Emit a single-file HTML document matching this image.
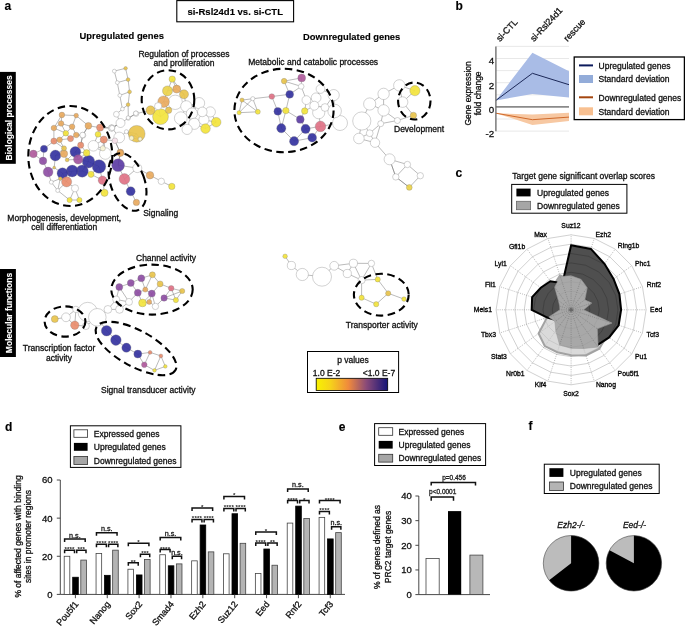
<!DOCTYPE html><html><head><meta charset="utf-8"><style>
html,body{margin:0;padding:0;background:#fff;}
svg{display:block;font-family:"Liberation Sans", sans-serif;will-change:transform;}
text{stroke-width:0.3px;}
text[fill="#111"]{stroke:#111;} text[fill="#000"]{stroke:#000;} text[fill="#222"]{stroke:#222;} text[fill="#fff"]{stroke:#fff;} text[font-weight="bold"]{stroke-width:0.12px;} text[fill="#333"]{stroke-width:0;}
</style></head><body>
<svg width="685" height="626" viewBox="0 0 685 626">
<rect width="685" height="626" fill="#fff"/>
<text x="4.50" y="10.30" font-size="12" font-weight="bold" font-style="normal" text-anchor="start" fill="#000" >a</text>
<rect x="176.8" y="0.6" width="116.8" height="21.2" fill="#fff" stroke="#000" stroke-width="1.1"/>
<text x="235.20" y="14.80" font-size="9.5" font-weight="bold" font-style="normal" text-anchor="middle" fill="#000" >si-Rsl24d1 vs. si-CTL</text>
<text x="79.60" y="39.40" font-size="9.4" font-weight="bold" font-style="normal" text-anchor="start" fill="#000" >Upregulated genes</text>
<text x="302.90" y="39.50" font-size="9.4" font-weight="bold" font-style="normal" text-anchor="start" fill="#000" >Downregulated genes</text>
<g stroke="#666" stroke-width="0.45" fill="none">
<line x1="61.9" y1="114.9" x2="76.2" y2="115.6"/>
<line x1="61.9" y1="114.9" x2="61.1" y2="123.5"/>
<line x1="61.9" y1="114.9" x2="53.9" y2="128"/>
<line x1="76.2" y1="115.6" x2="72.1" y2="126.7"/>
<line x1="76.2" y1="115.6" x2="88.4" y2="125.8"/>
<line x1="61.1" y1="123.5" x2="53.9" y2="128"/>
<line x1="61.1" y1="123.5" x2="72.1" y2="126.7"/>
<line x1="61.1" y1="123.5" x2="65.8" y2="133.2"/>
<line x1="53.9" y1="128" x2="65.8" y2="133.2"/>
<line x1="53.9" y1="128" x2="53.9" y2="141.1"/>
<line x1="72.1" y1="126.7" x2="65.8" y2="133.2"/>
<line x1="72.1" y1="126.7" x2="76.2" y2="135"/>
<line x1="88.4" y1="125.8" x2="100.1" y2="127.6"/>
<line x1="88.4" y1="125.8" x2="82.6" y2="135"/>
<line x1="88.4" y1="125.8" x2="82.9" y2="135.3"/>
<line x1="100.1" y1="127.6" x2="98" y2="134.3"/>
<line x1="100.1" y1="127.6" x2="111.7" y2="127.9"/>
<line x1="100.1" y1="127.6" x2="111.6" y2="128.1"/>
<line x1="65.8" y1="133.2" x2="59.6" y2="139.8"/>
<line x1="65.8" y1="133.2" x2="70.5" y2="138.6"/>
<line x1="76.2" y1="135" x2="82.6" y2="135"/>
<line x1="76.2" y1="135" x2="70.5" y2="138.6"/>
<line x1="76.2" y1="135" x2="82.9" y2="135.3"/>
<line x1="82.6" y1="135" x2="80.7" y2="145.2"/>
<line x1="82.6" y1="135" x2="82.9" y2="135.3"/>
<line x1="53.9" y1="141.1" x2="59.6" y2="139.8"/>
<line x1="53.9" y1="141.1" x2="44" y2="148.8"/>
<line x1="53.9" y1="141.1" x2="64" y2="148.3"/>
<line x1="59.6" y1="139.8" x2="70.5" y2="138.6"/>
<line x1="59.6" y1="139.8" x2="64" y2="148.3"/>
<line x1="98" y1="134.3" x2="93.4" y2="145.8"/>
<line x1="98" y1="134.3" x2="103.8" y2="139.6"/>
<line x1="80.7" y1="145.2" x2="75.4" y2="151.8"/>
<line x1="80.7" y1="145.2" x2="86.6" y2="152.9"/>
<line x1="80.7" y1="145.2" x2="82.9" y2="135.3"/>
<line x1="93.4" y1="145.8" x2="86.6" y2="152.9"/>
<line x1="93.4" y1="145.8" x2="103.8" y2="139.6"/>
<line x1="93.4" y1="145.8" x2="102.8" y2="148.3"/>
<line x1="93.4" y1="145.8" x2="105.3" y2="153.5"/>
<line x1="44" y1="148.8" x2="33.4" y2="153.9"/>
<line x1="44" y1="148.8" x2="43" y2="160.9"/>
<line x1="33.4" y1="153.9" x2="43" y2="160.9"/>
<line x1="55.4" y1="155.5" x2="64" y2="148.3"/>
<line x1="55.4" y1="155.5" x2="64" y2="153.8"/>
<line x1="55.4" y1="155.5" x2="54.2" y2="167.6"/>
<line x1="64" y1="148.3" x2="64" y2="153.8"/>
<line x1="64" y1="153.8" x2="67.1" y2="159.9"/>
<line x1="75.4" y1="151.8" x2="86.6" y2="152.9"/>
<line x1="75.4" y1="151.8" x2="67.1" y2="159.9"/>
<line x1="75.4" y1="151.8" x2="78.2" y2="159.4"/>
<line x1="86.6" y1="152.9" x2="78.2" y2="159.4"/>
<line x1="86.6" y1="152.9" x2="88.5" y2="161.6"/>
<line x1="43" y1="160.9" x2="48.1" y2="172"/>
<line x1="67.1" y1="159.9" x2="78.2" y2="159.4"/>
<line x1="78.2" y1="159.4" x2="88.5" y2="161.6"/>
<line x1="88.5" y1="161.6" x2="82.2" y2="171.1"/>
<line x1="88.5" y1="161.6" x2="99" y2="166.5"/>
<line x1="54.2" y1="167.6" x2="48.1" y2="172"/>
<line x1="54.2" y1="167.6" x2="62.5" y2="173.3"/>
<line x1="48.1" y1="172" x2="51.3" y2="182.2"/>
<line x1="62.5" y1="173.3" x2="72.2" y2="171"/>
<line x1="62.5" y1="173.3" x2="66.6" y2="181.8"/>
<line x1="62.5" y1="173.3" x2="60.3" y2="178.6"/>
<line x1="72.2" y1="171" x2="82.2" y2="171.1"/>
<line x1="72.2" y1="171" x2="66.6" y2="181.8"/>
<line x1="82.2" y1="171.1" x2="91" y2="174.3"/>
<line x1="99" y1="166.5" x2="91" y2="174.3"/>
<line x1="99" y1="166.5" x2="102.5" y2="180.2"/>
<line x1="91" y1="174.3" x2="102.5" y2="180.2"/>
<line x1="66.6" y1="181.8" x2="60.3" y2="178.6"/>
<line x1="66.6" y1="181.8" x2="57.7" y2="190.5"/>
<line x1="66.6" y1="181.8" x2="75" y2="188.3"/>
<line x1="60.3" y1="178.6" x2="51.3" y2="182.2"/>
<line x1="60.3" y1="178.6" x2="57.7" y2="190.5"/>
<line x1="51.3" y1="182.2" x2="57.7" y2="190.5"/>
<line x1="57.7" y1="190.5" x2="69.6" y2="200"/>
<line x1="75" y1="188.3" x2="69.6" y2="200"/>
<line x1="75" y1="188.3" x2="79.4" y2="200"/>
<line x1="69.6" y1="200" x2="79.4" y2="200"/>
<line x1="102.5" y1="180.2" x2="104.5" y2="192.8"/>
<line x1="136.7" y1="133.8" x2="131.5" y2="138.1"/>
<line x1="136.7" y1="133.8" x2="140.1" y2="139.1"/>
<line x1="136.7" y1="133.8" x2="126.4" y2="131.7"/>
<line x1="131.5" y1="138.1" x2="140.1" y2="139.1"/>
<line x1="131.5" y1="138.1" x2="126.4" y2="131.7"/>
<line x1="140.1" y1="139.1" x2="126.4" y2="131.7"/>
<line x1="103.8" y1="139.6" x2="102.8" y2="148.3"/>
<line x1="103.8" y1="139.6" x2="105.3" y2="153.5"/>
<line x1="103.8" y1="139.6" x2="114.9" y2="140.7"/>
<line x1="120.4" y1="153.2" x2="118.1" y2="165.2"/>
<line x1="120.4" y1="153.2" x2="114.9" y2="140.7"/>
<line x1="120.4" y1="153.2" x2="120.3" y2="152.5"/>
<line x1="118.1" y1="165.2" x2="124.5" y2="179"/>
<line x1="118.1" y1="165.2" x2="137.3" y2="168.1"/>
<line x1="118.1" y1="165.2" x2="120.3" y2="152.5"/>
<line x1="124.5" y1="179" x2="137.3" y2="168.1"/>
<line x1="124.5" y1="179" x2="130.7" y2="191.3"/>
<line x1="137.3" y1="168.1" x2="150" y2="175.2"/>
<line x1="150" y1="175.2" x2="161.3" y2="181.3"/>
<line x1="161.3" y1="181.3" x2="171.8" y2="186.4"/>
<line x1="130.7" y1="191.3" x2="136.4" y2="202.4"/>
<line x1="116.4" y1="114.2" x2="120.5" y2="123"/>
<line x1="120.5" y1="123" x2="111.7" y2="127.9"/>
<line x1="120.5" y1="123" x2="128.3" y2="118.3"/>
<line x1="120.5" y1="123" x2="111.6" y2="128.1"/>
<line x1="120.5" y1="123" x2="112.1" y2="128"/>
<line x1="111.7" y1="127.9" x2="111.6" y2="128.1"/>
<line x1="111.7" y1="127.9" x2="112.1" y2="128"/>
<line x1="119.2" y1="137.5" x2="126.4" y2="131.7"/>
<line x1="119.2" y1="137.5" x2="114.9" y2="140.7"/>
<line x1="119.2" y1="137.5" x2="112.1" y2="128"/>
<line x1="128.3" y1="118.3" x2="136.1" y2="113.7"/>
<line x1="128.3" y1="118.3" x2="135.8" y2="113.3"/>
<line x1="136.1" y1="113.7" x2="135.8" y2="113.3"/>
<line x1="136.1" y1="113.7" x2="150.5" y2="110.3"/>
<line x1="102.8" y1="148.3" x2="105.3" y2="153.5"/>
<line x1="114.9" y1="140.7" x2="120.3" y2="152.5"/>
<line x1="111.6" y1="128.1" x2="112.1" y2="128"/>
<line x1="114.3" y1="71.1" x2="125.6" y2="68.3"/>
<line x1="114.3" y1="71.1" x2="117.3" y2="82.6"/>
<line x1="125.6" y1="68.3" x2="128.1" y2="79.6"/>
<line x1="117.3" y1="82.6" x2="128.1" y2="79.6"/>
<line x1="117.3" y1="82.6" x2="119.8" y2="95.4"/>
<line x1="128.1" y1="79.6" x2="129.6" y2="91.8"/>
<line x1="119.8" y1="95.4" x2="129.6" y2="91.8"/>
<line x1="119.8" y1="95.4" x2="122.4" y2="109"/>
<line x1="129.6" y1="91.8" x2="128.1" y2="104.6"/>
<line x1="122.4" y1="109" x2="116.4" y2="114.2"/>
<line x1="122.4" y1="109" x2="128.1" y2="104.6"/>
<line x1="128.1" y1="104.6" x2="128.3" y2="118.3"/>
<line x1="172.2" y1="79.1" x2="167.5" y2="90.9"/>
<line x1="172.2" y1="79.1" x2="176.7" y2="89.1"/>
<line x1="172.2" y1="79.1" x2="184" y2="94.3"/>
<line x1="167.5" y1="90.9" x2="176.7" y2="89.1"/>
<line x1="167.5" y1="90.9" x2="163.6" y2="101.7"/>
<line x1="176.7" y1="89.1" x2="184" y2="94.3"/>
<line x1="184" y1="94.3" x2="175.2" y2="102.3"/>
<line x1="184" y1="94.3" x2="186.3" y2="106.3"/>
<line x1="163.6" y1="101.7" x2="175.2" y2="102.3"/>
<line x1="163.6" y1="101.7" x2="158.1" y2="106.2"/>
<line x1="163.6" y1="101.7" x2="168.6" y2="110.3"/>
<line x1="175.2" y1="102.3" x2="168.6" y2="110.3"/>
<line x1="175.2" y1="102.3" x2="186.3" y2="106.3"/>
<line x1="158.1" y1="106.2" x2="150.5" y2="110.3"/>
<line x1="158.1" y1="106.2" x2="160.5" y2="116.7"/>
<line x1="150.5" y1="110.3" x2="160.5" y2="116.7"/>
<line x1="168.6" y1="110.3" x2="160.5" y2="116.7"/>
<line x1="186.3" y1="106.3" x2="199.1" y2="103.1"/>
<line x1="186.3" y1="106.3" x2="180.8" y2="118.2"/>
<line x1="186.3" y1="106.3" x2="191.9" y2="113.5"/>
<line x1="199.1" y1="103.1" x2="191.9" y2="113.5"/>
<line x1="199.1" y1="103.1" x2="202.3" y2="111.9"/>
<line x1="180.8" y1="118.2" x2="191.9" y2="113.5"/>
<line x1="180.8" y1="118.2" x2="187.1" y2="129.4"/>
<line x1="191.9" y1="113.5" x2="202.3" y2="111.9"/>
<line x1="191.9" y1="113.5" x2="194.3" y2="123.8"/>
<line x1="191.9" y1="113.5" x2="187.1" y2="129.4"/>
<line x1="202.3" y1="111.9" x2="210.3" y2="111.9"/>
<line x1="202.3" y1="111.9" x2="203.9" y2="119.8"/>
<line x1="210.3" y1="111.9" x2="203.9" y2="119.8"/>
<line x1="210.3" y1="111.9" x2="216.2" y2="122.2"/>
<line x1="203.9" y1="119.8" x2="194.3" y2="123.8"/>
<line x1="203.9" y1="119.8" x2="216.2" y2="122.2"/>
<line x1="203.9" y1="119.8" x2="205.5" y2="128.6"/>
<line x1="194.3" y1="123.8" x2="187.1" y2="129.4"/>
<line x1="194.3" y1="123.8" x2="205.5" y2="128.6"/>
<line x1="216.2" y1="122.2" x2="205.5" y2="128.6"/>
</g>
<circle cx="175.2" cy="102.3" r="7.2" fill="#fff" stroke="#9a9a9a" stroke-width="0.45"/>
<circle cx="180.8" cy="118.2" r="6.4" fill="#fff" stroke="#9a9a9a" stroke-width="0.45"/>
<circle cx="105.3" cy="153.5" r="5.8" fill="#fff" stroke="#9a9a9a" stroke-width="0.45"/>
<circle cx="186.3" cy="106.3" r="5.6" fill="#fff" stroke="#9a9a9a" stroke-width="0.45"/>
<circle cx="199.1" cy="103.1" r="5.6" fill="#fff" stroke="#9a9a9a" stroke-width="0.45"/>
<circle cx="191.9" cy="113.5" r="5.6" fill="#fff" stroke="#9a9a9a" stroke-width="0.45"/>
<circle cx="194.3" cy="123.8" r="5.6" fill="#fff" stroke="#9a9a9a" stroke-width="0.45"/>
<circle cx="119.2" cy="137.5" r="5.4" fill="#fff" stroke="#9a9a9a" stroke-width="0.45"/>
<circle cx="93.4" cy="145.8" r="5.3" fill="#fff" stroke="#9a9a9a" stroke-width="0.45"/>
<circle cx="210.3" cy="111.9" r="5.1" fill="#fff" stroke="#9a9a9a" stroke-width="0.45"/>
<circle cx="203.9" cy="119.8" r="5.1" fill="#fff" stroke="#9a9a9a" stroke-width="0.45"/>
<circle cx="187.1" cy="129.4" r="5.1" fill="#fff" stroke="#9a9a9a" stroke-width="0.45"/>
<circle cx="202.3" cy="111.9" r="4.8" fill="#fff" stroke="#9a9a9a" stroke-width="0.45"/>
<circle cx="137.3" cy="168.1" r="4.5" fill="#fff" stroke="#9a9a9a" stroke-width="0.45"/>
<circle cx="120.5" cy="123" r="4.5" fill="#fff" stroke="#9a9a9a" stroke-width="0.45"/>
<circle cx="75" cy="188.3" r="3.6" fill="#fff" stroke="#9a9a9a" stroke-width="0.45"/>
<circle cx="161.3" cy="181.3" r="3.2" fill="#fff" stroke="#9a9a9a" stroke-width="0.45"/>
<circle cx="111.7" cy="127.9" r="3.2" fill="#fff" stroke="#9a9a9a" stroke-width="0.45"/>
<circle cx="111.6" cy="128.1" r="3.1" fill="#fff" stroke="#9a9a9a" stroke-width="0.45"/>
<circle cx="116.4" cy="114.2" r="2.9" fill="#fff" stroke="#9a9a9a" stroke-width="0.45"/>
<circle cx="82.9" cy="135.3" r="2.9" fill="#fff" stroke="#9a9a9a" stroke-width="0.45"/>
<circle cx="82.6" cy="135" r="2.8" fill="#fff" stroke="#9a9a9a" stroke-width="0.45"/>
<circle cx="136.1" cy="113.7" r="2.7" fill="#fff" stroke="#9a9a9a" stroke-width="0.45"/>
<circle cx="112.1" cy="128" r="2.6" fill="#fff" stroke="#9a9a9a" stroke-width="0.45"/>
<circle cx="135.8" cy="113.3" r="2.3" fill="#fff" stroke="#9a9a9a" stroke-width="0.45"/>
<circle cx="51.3" cy="182.2" r="2" fill="#fff" stroke="#9a9a9a" stroke-width="0.45"/>
<circle cx="57.7" cy="190.5" r="2" fill="#fff" stroke="#9a9a9a" stroke-width="0.45"/>
<circle cx="126.4" cy="131.7" r="2" fill="#fff" stroke="#9a9a9a" stroke-width="0.45"/>
<circle cx="128.3" cy="118.3" r="2" fill="#fff" stroke="#9a9a9a" stroke-width="0.45"/>
<circle cx="114.3" cy="71.1" r="1.9" fill="#fff" stroke="#9a9a9a" stroke-width="0.45"/>
<circle cx="117.3" cy="82.6" r="1.9" fill="#fff" stroke="#9a9a9a" stroke-width="0.45"/>
<circle cx="119.8" cy="95.4" r="1.9" fill="#fff" stroke="#9a9a9a" stroke-width="0.45"/>
<circle cx="122.4" cy="109" r="1.9" fill="#fff" stroke="#9a9a9a" stroke-width="0.45"/>
<circle cx="128.1" cy="117.7" r="1.9" fill="#fff" stroke="#9a9a9a" stroke-width="0.45"/>
<circle cx="136.7" cy="133.8" r="8.4" fill="#e9c44c" fill-opacity="0.92" stroke="#777" stroke-width="0.3"/>
<circle cx="160.5" cy="116.7" r="7.9" fill="#f3e43c" fill-opacity="0.92" stroke="#777" stroke-width="0.3"/>
<circle cx="99" cy="166.5" r="6.8" fill="#3432a0" fill-opacity="0.92" stroke="#777" stroke-width="0.3"/>
<circle cx="118.1" cy="165.2" r="6.4" fill="#5c3ca4" fill-opacity="0.92" stroke="#777" stroke-width="0.3"/>
<circle cx="88.5" cy="161.6" r="6.3" fill="#3432a0" fill-opacity="0.92" stroke="#777" stroke-width="0.3"/>
<circle cx="82.2" cy="171.1" r="6.1" fill="#3432a0" fill-opacity="0.92" stroke="#777" stroke-width="0.3"/>
<circle cx="72.2" cy="171" r="5.9" fill="#3432a0" fill-opacity="0.92" stroke="#777" stroke-width="0.3"/>
<circle cx="163.6" cy="101.7" r="5.8" fill="#e9aa5e" fill-opacity="0.92" stroke="#777" stroke-width="0.3"/>
<circle cx="62.5" cy="173.3" r="5.5" fill="#3432a0" fill-opacity="0.92" stroke="#777" stroke-width="0.3"/>
<circle cx="55.4" cy="155.5" r="5.4" fill="#3432a0" fill-opacity="0.92" stroke="#777" stroke-width="0.3"/>
<circle cx="75.4" cy="151.8" r="5.4" fill="#3432a0" fill-opacity="0.92" stroke="#777" stroke-width="0.3"/>
<circle cx="124.5" cy="179" r="5.4" fill="#e07286" fill-opacity="0.92" stroke="#777" stroke-width="0.3"/>
<circle cx="66.6" cy="181.8" r="5.1" fill="#e98d6e" fill-opacity="0.92" stroke="#777" stroke-width="0.3"/>
<circle cx="167.5" cy="90.9" r="5" fill="#ecd24a" fill-opacity="0.92" stroke="#777" stroke-width="0.3"/>
<circle cx="48.1" cy="172" r="4.9" fill="#8e4ea4" fill-opacity="0.92" stroke="#777" stroke-width="0.3"/>
<circle cx="216.2" cy="122.2" r="4.8" fill="#f3e43c" fill-opacity="0.92" stroke="#777" stroke-width="0.3"/>
<circle cx="205.5" cy="128.6" r="4.8" fill="#f3e43c" fill-opacity="0.92" stroke="#777" stroke-width="0.3"/>
<circle cx="78.2" cy="159.4" r="4.7" fill="#a0529e" fill-opacity="0.92" stroke="#777" stroke-width="0.3"/>
<circle cx="130.7" cy="191.3" r="4.5" fill="#3432a0" fill-opacity="0.92" stroke="#777" stroke-width="0.3"/>
<circle cx="184" cy="94.3" r="4.5" fill="#e9c44c" fill-opacity="0.92" stroke="#777" stroke-width="0.3"/>
<circle cx="150.5" cy="110.3" r="4.5" fill="#e9c44c" fill-opacity="0.92" stroke="#777" stroke-width="0.3"/>
<circle cx="102.5" cy="180.2" r="4.3" fill="#e07286" fill-opacity="0.92" stroke="#777" stroke-width="0.3"/>
<circle cx="176.7" cy="89.1" r="4" fill="#e9aa5e" fill-opacity="0.92" stroke="#777" stroke-width="0.3"/>
<circle cx="33.4" cy="153.9" r="3.8" fill="#b05a9c" fill-opacity="0.92" stroke="#777" stroke-width="0.3"/>
<circle cx="43" cy="160.9" r="3.8" fill="#8e4ea4" fill-opacity="0.92" stroke="#777" stroke-width="0.3"/>
<circle cx="150" cy="175.2" r="3.8" fill="#e9aa5e" fill-opacity="0.92" stroke="#777" stroke-width="0.3"/>
<circle cx="64" cy="153.8" r="3.7" fill="#e9aa5e" fill-opacity="0.92" stroke="#777" stroke-width="0.3"/>
<circle cx="100.1" cy="127.6" r="3.6" fill="#e98d6e" fill-opacity="0.92" stroke="#777" stroke-width="0.3"/>
<circle cx="44" cy="148.8" r="3.6" fill="#3432a0" fill-opacity="0.92" stroke="#777" stroke-width="0.3"/>
<circle cx="103.8" cy="139.6" r="3.6" fill="#e98d6e" fill-opacity="0.92" stroke="#777" stroke-width="0.3"/>
<circle cx="104.5" cy="192.8" r="3.6" fill="#f3e43c" fill-opacity="0.92" stroke="#777" stroke-width="0.3"/>
<circle cx="88.4" cy="125.8" r="3.4" fill="#e9aa5e" fill-opacity="0.92" stroke="#777" stroke-width="0.3"/>
<circle cx="120.3" cy="152.5" r="3.4" fill="#e9aa5e" fill-opacity="0.92" stroke="#777" stroke-width="0.3"/>
<circle cx="86.6" cy="152.9" r="3.3" fill="#f3e43c" fill-opacity="0.92" stroke="#777" stroke-width="0.3"/>
<circle cx="120.4" cy="153.2" r="3.3" fill="#e9aa5e" fill-opacity="0.92" stroke="#777" stroke-width="0.3"/>
<circle cx="136.4" cy="202.4" r="3.2" fill="#e9aa5e" fill-opacity="0.92" stroke="#777" stroke-width="0.3"/>
<circle cx="171.8" cy="186.4" r="3.2" fill="#f3e43c" fill-opacity="0.92" stroke="#777" stroke-width="0.3"/>
<circle cx="172.2" cy="79.1" r="3.2" fill="#f3e43c" fill-opacity="0.92" stroke="#777" stroke-width="0.3"/>
<circle cx="168.6" cy="110.3" r="3.2" fill="#e9c44c" fill-opacity="0.92" stroke="#777" stroke-width="0.3"/>
<circle cx="53.9" cy="141.1" r="3.1" fill="#e98d6e" fill-opacity="0.92" stroke="#777" stroke-width="0.3"/>
<circle cx="70.5" cy="138.6" r="3.1" fill="#e98d6e" fill-opacity="0.92" stroke="#777" stroke-width="0.3"/>
<circle cx="80.7" cy="145.2" r="3.1" fill="#e98d6e" fill-opacity="0.92" stroke="#777" stroke-width="0.3"/>
<circle cx="91" cy="174.3" r="3.1" fill="#f3e43c" fill-opacity="0.92" stroke="#777" stroke-width="0.3"/>
<circle cx="98" cy="134.3" r="2.9" fill="#f3e43c" fill-opacity="0.92" stroke="#777" stroke-width="0.3"/>
<circle cx="61.9" cy="114.9" r="2.8" fill="#e9aa5e" fill-opacity="0.92" stroke="#777" stroke-width="0.3"/>
<circle cx="61.1" cy="123.5" r="2.8" fill="#e9aa5e" fill-opacity="0.92" stroke="#777" stroke-width="0.3"/>
<circle cx="53.9" cy="128" r="2.8" fill="#e9aa5e" fill-opacity="0.92" stroke="#777" stroke-width="0.3"/>
<circle cx="72.1" cy="126.7" r="2.8" fill="#e9aa5e" fill-opacity="0.92" stroke="#777" stroke-width="0.3"/>
<circle cx="65.8" cy="133.2" r="2.8" fill="#f3e43c" fill-opacity="0.92" stroke="#777" stroke-width="0.3"/>
<circle cx="76.2" cy="135" r="2.8" fill="#e9aa5e" fill-opacity="0.92" stroke="#777" stroke-width="0.3"/>
<circle cx="59.6" cy="139.8" r="2.8" fill="#e9aa5e" fill-opacity="0.92" stroke="#777" stroke-width="0.3"/>
<circle cx="114.9" cy="140.7" r="2.8" fill="#f9e2ea" fill-opacity="0.92" stroke="#777" stroke-width="0.3"/>
<circle cx="69.6" cy="200" r="2.6" fill="#f3e43c" fill-opacity="0.92" stroke="#777" stroke-width="0.3"/>
<circle cx="79.4" cy="200" r="2.6" fill="#f3e43c" fill-opacity="0.92" stroke="#777" stroke-width="0.3"/>
<circle cx="102.8" cy="148.3" r="2.6" fill="#f9f5d6" fill-opacity="0.92" stroke="#777" stroke-width="0.3"/>
<circle cx="64" cy="148.3" r="2.5" fill="#e9c44c" fill-opacity="0.92" stroke="#777" stroke-width="0.3"/>
<circle cx="76.2" cy="115.6" r="2.3" fill="#e9aa5e" fill-opacity="0.92" stroke="#777" stroke-width="0.3"/>
<circle cx="131.5" cy="138.1" r="2.3" fill="#f9f5d6" fill-opacity="0.92" stroke="#777" stroke-width="0.3"/>
<circle cx="140.1" cy="139.1" r="2" fill="#f9f5d6" fill-opacity="0.92" stroke="#777" stroke-width="0.3"/>
<circle cx="67.1" cy="159.9" r="1.9" fill="#e9c44c" fill-opacity="0.92" stroke="#777" stroke-width="0.3"/>
<circle cx="128.1" cy="79.6" r="1.9" fill="#e9c44c" fill-opacity="0.92" stroke="#777" stroke-width="0.3"/>
<circle cx="129.6" cy="91.8" r="1.9" fill="#e9c44c" fill-opacity="0.92" stroke="#777" stroke-width="0.3"/>
<circle cx="128.1" cy="104.6" r="1.9" fill="#e9c44c" fill-opacity="0.92" stroke="#777" stroke-width="0.3"/>
<circle cx="60.3" cy="178.6" r="1.8" fill="#e9c44c" fill-opacity="0.92" stroke="#777" stroke-width="0.3"/>
<circle cx="125.6" cy="68.3" r="1.8" fill="#e9c44c" fill-opacity="0.92" stroke="#777" stroke-width="0.3"/>
<circle cx="54.2" cy="167.6" r="1.4" fill="#e9c44c" fill-opacity="0.92" stroke="#777" stroke-width="0.3"/>
<circle cx="158.1" cy="106.2" r="3.6" fill="#fff" stroke="#9a9a9a" stroke-width="0.45"/>
<g stroke="#666" stroke-width="0.45" fill="none">
<line x1="284.1" y1="81.1" x2="301.7" y2="77.9"/>
<line x1="284.1" y1="81.1" x2="301.2" y2="86.4"/>
<line x1="284.1" y1="81.1" x2="289.7" y2="94.3"/>
<line x1="301.7" y1="77.9" x2="301.2" y2="86.4"/>
<line x1="301.2" y1="86.4" x2="289.7" y2="94.3"/>
<line x1="301.2" y1="86.4" x2="306.4" y2="100.1"/>
<line x1="242" y1="100.1" x2="252.8" y2="98.7"/>
<line x1="242" y1="100.1" x2="239.1" y2="112.7"/>
<line x1="242" y1="100.1" x2="257.8" y2="111.8"/>
<line x1="252.8" y1="98.7" x2="271.8" y2="96.5"/>
<line x1="252.8" y1="98.7" x2="239.1" y2="112.7"/>
<line x1="252.8" y1="98.7" x2="257.8" y2="111.8"/>
<line x1="271.8" y1="96.5" x2="289.7" y2="94.3"/>
<line x1="271.8" y1="96.5" x2="277.8" y2="111.3"/>
<line x1="289.7" y1="94.3" x2="285.9" y2="110.6"/>
<line x1="239.1" y1="112.7" x2="257.8" y2="111.8"/>
<line x1="277.8" y1="111.3" x2="285.9" y2="110.6"/>
<line x1="277.8" y1="111.3" x2="281.3" y2="128.2"/>
<line x1="285.9" y1="110.6" x2="300.3" y2="119.4"/>
<line x1="285.9" y1="110.6" x2="281.3" y2="128.2"/>
<line x1="304.7" y1="111" x2="300.3" y2="119.4"/>
<line x1="304.7" y1="111" x2="306.4" y2="100.1"/>
<line x1="304.7" y1="111" x2="314.3" y2="105.7"/>
<line x1="300.3" y1="119.4" x2="305.6" y2="128.9"/>
<line x1="281.3" y1="128.2" x2="294.1" y2="141.2"/>
<line x1="305.6" y1="128.9" x2="320.5" y2="126.4"/>
<line x1="305.6" y1="128.9" x2="312.2" y2="137.7"/>
<line x1="305.6" y1="128.9" x2="294.1" y2="141.2"/>
<line x1="320.5" y1="126.4" x2="312.2" y2="137.7"/>
<line x1="320.5" y1="126.4" x2="318.7" y2="112.7"/>
<line x1="320.5" y1="126.4" x2="340" y2="123"/>
<line x1="312.2" y1="137.7" x2="294.1" y2="141.2"/>
<line x1="306.4" y1="100.1" x2="316.1" y2="97.8"/>
<line x1="306.4" y1="100.1" x2="314.3" y2="105.7"/>
<line x1="316.1" y1="97.8" x2="320.5" y2="89"/>
<line x1="316.1" y1="97.8" x2="314.3" y2="105.7"/>
<line x1="320.5" y1="89" x2="333.7" y2="95.1"/>
<line x1="320.5" y1="89" x2="314.3" y2="105.7"/>
<line x1="333.7" y1="95.1" x2="325" y2="107.5"/>
<line x1="333.7" y1="95.1" x2="334.6" y2="111"/>
<line x1="325" y1="107.5" x2="318.7" y2="112.7"/>
<line x1="325" y1="107.5" x2="334.6" y2="111"/>
<line x1="325" y1="107.5" x2="314.3" y2="105.7"/>
<line x1="318.7" y1="112.7" x2="314.3" y2="105.7"/>
<line x1="334.6" y1="111" x2="340" y2="123"/>
<line x1="399.3" y1="85.4" x2="383.6" y2="93.9"/>
<line x1="399.3" y1="85.4" x2="402.6" y2="102.1"/>
<line x1="399.3" y1="85.4" x2="414.9" y2="90.7"/>
<line x1="383.6" y1="93.9" x2="369.7" y2="104"/>
<line x1="383.6" y1="93.9" x2="383.6" y2="110.4"/>
<line x1="369.7" y1="104" x2="383.6" y2="110.4"/>
<line x1="369.7" y1="104" x2="361.8" y2="121"/>
<line x1="383.6" y1="110.4" x2="397.4" y2="120.5"/>
<line x1="383.6" y1="110.4" x2="380.7" y2="123.7"/>
<line x1="402.6" y1="102.1" x2="414.9" y2="90.7"/>
<line x1="402.6" y1="102.1" x2="413.4" y2="115.4"/>
<line x1="397.4" y1="120.5" x2="380.7" y2="123.7"/>
<line x1="397.4" y1="120.5" x2="413.4" y2="115.4"/>
<line x1="361.8" y1="121" x2="369.7" y2="133.2"/>
<line x1="361.8" y1="121" x2="358.9" y2="138.5"/>
<line x1="380.7" y1="123.7" x2="369.7" y2="133.2"/>
<line x1="380.7" y1="123.7" x2="375" y2="142.7"/>
<line x1="369.7" y1="133.2" x2="358.9" y2="138.5"/>
<line x1="369.7" y1="133.2" x2="375" y2="142.7"/>
<line x1="358.9" y1="138.5" x2="375" y2="142.7"/>
<line x1="375" y1="142.7" x2="389.6" y2="159.3"/>
<line x1="389.6" y1="159.3" x2="407.4" y2="164.5"/>
<line x1="389.6" y1="159.3" x2="395.8" y2="176.9"/>
<line x1="407.4" y1="164.5" x2="420.3" y2="175.7"/>
<line x1="407.4" y1="164.5" x2="395.8" y2="176.9"/>
<line x1="420.3" y1="175.7" x2="409.3" y2="187.4"/>
<line x1="395.8" y1="176.9" x2="389.6" y2="159.3"/>
<line x1="395.8" y1="176.9" x2="409.3" y2="187.4"/>
<line x1="409.3" y1="187.4" x2="395.8" y2="176.9"/>
</g>
<circle cx="361.8" cy="121" r="9.1" fill="#fff" stroke="#9a9a9a" stroke-width="0.45"/>
<circle cx="340" cy="123" r="7.5" fill="#fff" stroke="#9a9a9a" stroke-width="0.45"/>
<circle cx="334.6" cy="111" r="6.8" fill="#fff" stroke="#9a9a9a" stroke-width="0.45"/>
<circle cx="318.7" cy="112.7" r="6.1" fill="#fff" stroke="#9a9a9a" stroke-width="0.45"/>
<circle cx="369.7" cy="104" r="6.1" fill="#fff" stroke="#9a9a9a" stroke-width="0.45"/>
<circle cx="399.3" cy="85.4" r="5.7" fill="#fff" stroke="#9a9a9a" stroke-width="0.45"/>
<circle cx="383.6" cy="93.9" r="5.7" fill="#fff" stroke="#9a9a9a" stroke-width="0.45"/>
<circle cx="383.6" cy="110.4" r="5.7" fill="#fff" stroke="#9a9a9a" stroke-width="0.45"/>
<circle cx="333.7" cy="95.1" r="5.6" fill="#fff" stroke="#9a9a9a" stroke-width="0.45"/>
<circle cx="389.6" cy="159.3" r="5.5" fill="#fff" stroke="#9a9a9a" stroke-width="0.45"/>
<circle cx="402.6" cy="102.1" r="5.3" fill="#fff" stroke="#9a9a9a" stroke-width="0.45"/>
<circle cx="358.9" cy="138.5" r="5.3" fill="#fff" stroke="#9a9a9a" stroke-width="0.45"/>
<circle cx="316.1" cy="97.8" r="4.9" fill="#fff" stroke="#9a9a9a" stroke-width="0.45"/>
<circle cx="375" cy="142.7" r="4.7" fill="#fff" stroke="#9a9a9a" stroke-width="0.45"/>
<circle cx="314.3" cy="105.7" r="4.5" fill="#fff" stroke="#9a9a9a" stroke-width="0.45"/>
<circle cx="306.4" cy="100.1" r="4.4" fill="#fff" stroke="#9a9a9a" stroke-width="0.45"/>
<circle cx="320.5" cy="89" r="4.4" fill="#fff" stroke="#9a9a9a" stroke-width="0.45"/>
<circle cx="325" cy="107.5" r="3.9" fill="#fff" stroke="#9a9a9a" stroke-width="0.45"/>
<circle cx="369.7" cy="133.2" r="3.4" fill="#fff" stroke="#9a9a9a" stroke-width="0.45"/>
<circle cx="407.4" cy="164.5" r="3.2" fill="#fff" stroke="#9a9a9a" stroke-width="0.45"/>
<circle cx="420.3" cy="175.7" r="3.2" fill="#fff" stroke="#9a9a9a" stroke-width="0.45"/>
<circle cx="395.8" cy="176.9" r="3.2" fill="#fff" stroke="#9a9a9a" stroke-width="0.45"/>
<circle cx="397.4" cy="120.5" r="3" fill="#fff" stroke="#9a9a9a" stroke-width="0.45"/>
<circle cx="380.7" cy="123.7" r="3" fill="#fff" stroke="#9a9a9a" stroke-width="0.45"/>
<circle cx="301.2" cy="86.4" r="2.8" fill="#fff" stroke="#9a9a9a" stroke-width="0.45"/>
<circle cx="252.8" cy="98.7" r="2.1" fill="#fff" stroke="#9a9a9a" stroke-width="0.45"/>
<circle cx="320.5" cy="126.4" r="5.3" fill="#e07286" fill-opacity="0.92" stroke="#777" stroke-width="0.3"/>
<circle cx="414.9" cy="90.7" r="5.1" fill="#f3e43c" fill-opacity="0.92" stroke="#777" stroke-width="0.3"/>
<circle cx="281.3" cy="128.2" r="4.6" fill="#3432a0" fill-opacity="0.92" stroke="#777" stroke-width="0.3"/>
<circle cx="305.6" cy="128.9" r="4.6" fill="#3432a0" fill-opacity="0.92" stroke="#777" stroke-width="0.3"/>
<circle cx="294.1" cy="141.2" r="4.6" fill="#3432a0" fill-opacity="0.92" stroke="#777" stroke-width="0.3"/>
<circle cx="312.2" cy="137.7" r="4.4" fill="#3432a0" fill-opacity="0.92" stroke="#777" stroke-width="0.3"/>
<circle cx="301.7" cy="77.9" r="3.9" fill="#b05a9c" fill-opacity="0.92" stroke="#777" stroke-width="0.3"/>
<circle cx="289.7" cy="94.3" r="3.9" fill="#3432a0" fill-opacity="0.92" stroke="#777" stroke-width="0.3"/>
<circle cx="277.8" cy="111.3" r="3.9" fill="#3432a0" fill-opacity="0.92" stroke="#777" stroke-width="0.3"/>
<circle cx="300.3" cy="119.4" r="3.9" fill="#5c3ca4" fill-opacity="0.92" stroke="#777" stroke-width="0.3"/>
<circle cx="285.9" cy="110.6" r="3.2" fill="#f3e43c" fill-opacity="0.92" stroke="#777" stroke-width="0.3"/>
<circle cx="304.7" cy="111" r="3.2" fill="#f3e43c" fill-opacity="0.92" stroke="#777" stroke-width="0.3"/>
<circle cx="413.4" cy="115.4" r="3.2" fill="#e9c44c" fill-opacity="0.92" stroke="#777" stroke-width="0.3"/>
<circle cx="409.3" cy="187.4" r="2.9" fill="#ecd24a" fill-opacity="0.92" stroke="#777" stroke-width="0.3"/>
<circle cx="284.1" cy="81.1" r="2.8" fill="#e9c44c" fill-opacity="0.92" stroke="#777" stroke-width="0.3"/>
<circle cx="271.8" cy="96.5" r="2.8" fill="#e07286" fill-opacity="0.92" stroke="#777" stroke-width="0.3"/>
<circle cx="257.8" cy="111.8" r="2.5" fill="#f3e43c" fill-opacity="0.92" stroke="#777" stroke-width="0.3"/>
<circle cx="242" cy="100.1" r="2.1" fill="#e9c44c" fill-opacity="0.92" stroke="#777" stroke-width="0.3"/>
<circle cx="239.1" cy="112.7" r="2.1" fill="#f3e43c" fill-opacity="0.92" stroke="#777" stroke-width="0.3"/>
<g stroke="#666" stroke-width="0.45" fill="none">
<line x1="54.8" y1="319.1" x2="66" y2="317.3"/>
<line x1="66" y1="317.3" x2="74.8" y2="325.2"/>
<line x1="66" y1="317.3" x2="75.9" y2="309.4"/>
<line x1="74.8" y1="325.2" x2="75.9" y2="309.4"/>
<line x1="74.8" y1="325.2" x2="85.9" y2="326.1"/>
<line x1="75.9" y1="309.4" x2="87.7" y2="312"/>
<line x1="87.7" y1="312" x2="97.3" y2="317.3"/>
<line x1="87.7" y1="312" x2="85.9" y2="326.1"/>
<line x1="97.3" y1="317.3" x2="85.9" y2="326.1"/>
<line x1="97.3" y1="317.3" x2="107.9" y2="309.4"/>
<line x1="97.3" y1="317.3" x2="106.6" y2="330.7"/>
<line x1="107.9" y1="309.4" x2="119.5" y2="309.4"/>
<line x1="107.9" y1="309.4" x2="116.2" y2="299.5"/>
<line x1="119.5" y1="309.4" x2="116.2" y2="299.5"/>
<line x1="119.5" y1="309.4" x2="129" y2="301.9"/>
<line x1="116.2" y1="299.5" x2="129" y2="301.9"/>
<line x1="116.2" y1="299.5" x2="119.3" y2="287.1"/>
<line x1="129" y1="301.9" x2="119.3" y2="287.1"/>
<line x1="129" y1="301.9" x2="137.8" y2="292.7"/>
<line x1="119.3" y1="287.1" x2="130.8" y2="283"/>
<line x1="130.8" y1="283" x2="141.3" y2="278.3"/>
<line x1="130.8" y1="283" x2="137.8" y2="292.7"/>
<line x1="141.3" y1="278.3" x2="152.4" y2="274.8"/>
<line x1="141.3" y1="278.3" x2="145.3" y2="289.6"/>
<line x1="152.4" y1="274.8" x2="160.1" y2="283.9"/>
<line x1="152.4" y1="274.8" x2="145.3" y2="289.6"/>
<line x1="160.1" y1="283.9" x2="171.2" y2="288.3"/>
<line x1="160.1" y1="283.9" x2="151.8" y2="293.6"/>
<line x1="171.2" y1="288.3" x2="182.2" y2="291"/>
<line x1="171.2" y1="288.3" x2="164.1" y2="298"/>
<line x1="171.2" y1="288.3" x2="175.9" y2="300.1"/>
<line x1="182.2" y1="291" x2="164.1" y2="298"/>
<line x1="182.2" y1="291" x2="175.9" y2="300.1"/>
<line x1="137.8" y1="292.7" x2="145.3" y2="289.6"/>
<line x1="137.8" y1="292.7" x2="142.5" y2="302.9"/>
<line x1="145.3" y1="289.6" x2="151.8" y2="293.6"/>
<line x1="151.8" y1="293.6" x2="142.5" y2="302.9"/>
<line x1="151.8" y1="293.6" x2="149.2" y2="301.9"/>
<line x1="151.8" y1="293.6" x2="155.4" y2="306.4"/>
<line x1="164.1" y1="298" x2="175.9" y2="300.1"/>
<line x1="164.1" y1="298" x2="155.4" y2="306.4"/>
<line x1="142.5" y1="302.9" x2="149.2" y2="301.9"/>
<line x1="149.2" y1="301.9" x2="155.4" y2="306.4"/>
<line x1="106.6" y1="330.7" x2="115.9" y2="340.1"/>
<line x1="115.9" y1="340.1" x2="126.4" y2="347.7"/>
<line x1="126.4" y1="347.7" x2="137.8" y2="354.1"/>
<line x1="137.8" y1="354.1" x2="150.1" y2="352.4"/>
<line x1="137.8" y1="354.1" x2="144.3" y2="364.7"/>
<line x1="150.1" y1="352.4" x2="160.9" y2="355.9"/>
<line x1="150.1" y1="352.4" x2="144.3" y2="364.7"/>
<line x1="160.9" y1="355.9" x2="154.5" y2="370.4"/>
<line x1="160.9" y1="355.9" x2="165.3" y2="366.4"/>
<line x1="144.3" y1="364.7" x2="154.5" y2="370.4"/>
<line x1="154.5" y1="370.4" x2="165.3" y2="366.4"/>
</g>
<circle cx="87.7" cy="312" r="9.7" fill="#fff" stroke="#9a9a9a" stroke-width="0.45"/>
<circle cx="97.3" cy="317.3" r="8.8" fill="#fff" stroke="#9a9a9a" stroke-width="0.45"/>
<circle cx="66" cy="317.3" r="4.4" fill="#fff" stroke="#9a9a9a" stroke-width="0.45"/>
<circle cx="107.9" cy="309.4" r="3.9" fill="#fff" stroke="#9a9a9a" stroke-width="0.45"/>
<circle cx="119.5" cy="309.4" r="3.9" fill="#fff" stroke="#9a9a9a" stroke-width="0.45"/>
<circle cx="85.9" cy="326.1" r="3.5" fill="#fff" stroke="#9a9a9a" stroke-width="0.45"/>
<circle cx="116.2" cy="299.5" r="3.5" fill="#fff" stroke="#9a9a9a" stroke-width="0.45"/>
<circle cx="129" cy="301.9" r="3.5" fill="#fff" stroke="#9a9a9a" stroke-width="0.45"/>
<circle cx="75.9" cy="309.4" r="3.2" fill="#fff" stroke="#9a9a9a" stroke-width="0.45"/>
<circle cx="155.4" cy="306.4" r="3.2" fill="#fff" stroke="#9a9a9a" stroke-width="0.45"/>
<circle cx="106.6" cy="330.7" r="5.3" fill="#3432a0" fill-opacity="0.92" stroke="#777" stroke-width="0.3"/>
<circle cx="115.9" cy="340.1" r="5.3" fill="#3432a0" fill-opacity="0.92" stroke="#777" stroke-width="0.3"/>
<circle cx="126.4" cy="347.7" r="4.6" fill="#3432a0" fill-opacity="0.92" stroke="#777" stroke-width="0.3"/>
<circle cx="74.8" cy="325.2" r="4.2" fill="#e98d6e" fill-opacity="0.92" stroke="#777" stroke-width="0.3"/>
<circle cx="137.8" cy="354.1" r="4" fill="#3432a0" fill-opacity="0.92" stroke="#777" stroke-width="0.3"/>
<circle cx="142.5" cy="302.9" r="3.9" fill="#f3e43c" fill-opacity="0.92" stroke="#777" stroke-width="0.3"/>
<circle cx="54.8" cy="319.1" r="3.5" fill="#e9c44c" fill-opacity="0.92" stroke="#777" stroke-width="0.3"/>
<circle cx="119.3" cy="287.1" r="3.5" fill="#8e4ea4" fill-opacity="0.92" stroke="#777" stroke-width="0.3"/>
<circle cx="130.8" cy="283" r="3.5" fill="#8e4ea4" fill-opacity="0.92" stroke="#777" stroke-width="0.3"/>
<circle cx="141.3" cy="278.3" r="3.5" fill="#8e4ea4" fill-opacity="0.92" stroke="#777" stroke-width="0.3"/>
<circle cx="137.8" cy="292.7" r="3.5" fill="#8e4ea4" fill-opacity="0.92" stroke="#777" stroke-width="0.3"/>
<circle cx="151.8" cy="293.6" r="3.5" fill="#8e4ea4" fill-opacity="0.92" stroke="#777" stroke-width="0.3"/>
<circle cx="164.1" cy="298" r="3.2" fill="#8e4ea4" fill-opacity="0.92" stroke="#777" stroke-width="0.3"/>
<circle cx="152.4" cy="274.8" r="3" fill="#e9c44c" fill-opacity="0.92" stroke="#777" stroke-width="0.3"/>
<circle cx="160.1" cy="283.9" r="3" fill="#e9c44c" fill-opacity="0.92" stroke="#777" stroke-width="0.3"/>
<circle cx="171.2" cy="288.3" r="2.8" fill="#e07286" fill-opacity="0.92" stroke="#777" stroke-width="0.3"/>
<circle cx="144.3" cy="364.7" r="2.8" fill="#b05a9c" fill-opacity="0.92" stroke="#777" stroke-width="0.3"/>
<circle cx="182.2" cy="291" r="2.6" fill="#e9c44c" fill-opacity="0.92" stroke="#777" stroke-width="0.3"/>
<circle cx="175.9" cy="300.1" r="2.6" fill="#f3e43c" fill-opacity="0.92" stroke="#777" stroke-width="0.3"/>
<circle cx="145.3" cy="289.6" r="2.5" fill="#e9aa5e" fill-opacity="0.92" stroke="#777" stroke-width="0.3"/>
<circle cx="149.2" cy="301.9" r="2.5" fill="#e9aa5e" fill-opacity="0.92" stroke="#777" stroke-width="0.3"/>
<circle cx="150.1" cy="352.4" r="1.9" fill="#e98d6e" fill-opacity="0.92" stroke="#777" stroke-width="0.3"/>
<circle cx="160.9" cy="355.9" r="1.9" fill="#e98d6e" fill-opacity="0.92" stroke="#777" stroke-width="0.3"/>
<circle cx="154.5" cy="370.4" r="1.8" fill="#f3e43c" fill-opacity="0.92" stroke="#777" stroke-width="0.3"/>
<circle cx="165.3" cy="366.4" r="1.8" fill="#f3e43c" fill-opacity="0.92" stroke="#777" stroke-width="0.3"/>
<g stroke="#666" stroke-width="0.45" fill="none">
<line x1="285.1" y1="256.3" x2="291.4" y2="265.5"/>
<line x1="291.4" y1="265.5" x2="302.3" y2="274.5"/>
<line x1="302.3" y1="274.5" x2="322" y2="276.7"/>
<line x1="322" y1="276.7" x2="334.2" y2="265.8"/>
<line x1="334.2" y1="265.8" x2="353.4" y2="263.3"/>
<line x1="334.2" y1="265.8" x2="347.3" y2="273.5"/>
<line x1="353.4" y1="263.3" x2="347.3" y2="273.5"/>
<line x1="353.4" y1="263.3" x2="371.4" y2="263.4"/>
<line x1="353.4" y1="263.3" x2="361.6" y2="280.1"/>
<line x1="347.3" y1="273.5" x2="361.6" y2="280.1"/>
<line x1="371.4" y1="263.4" x2="361.6" y2="280.1"/>
<line x1="371.4" y1="263.4" x2="377.7" y2="279.4"/>
<line x1="361.6" y1="280.1" x2="377.7" y2="279.4"/>
<line x1="361.6" y1="280.1" x2="361.6" y2="297.7"/>
<line x1="377.7" y1="279.4" x2="388.2" y2="293.3"/>
<line x1="388.2" y1="293.3" x2="376.2" y2="304.2"/>
<line x1="388.2" y1="293.3" x2="404" y2="299.1"/>
<line x1="361.6" y1="297.7" x2="376.2" y2="304.2"/>
</g>
<circle cx="322" cy="276.7" r="9.5" fill="#fff" stroke="#9a9a9a" stroke-width="0.45"/>
<circle cx="302.3" cy="274.5" r="6.1" fill="#fff" stroke="#9a9a9a" stroke-width="0.45"/>
<circle cx="334.2" cy="265.8" r="4.4" fill="#fff" stroke="#9a9a9a" stroke-width="0.45"/>
<circle cx="291.4" cy="265.5" r="4.1" fill="#fff" stroke="#9a9a9a" stroke-width="0.45"/>
<circle cx="353.4" cy="263.3" r="4.1" fill="#fff" stroke="#9a9a9a" stroke-width="0.45"/>
<circle cx="347.3" cy="273.5" r="4.1" fill="#fff" stroke="#9a9a9a" stroke-width="0.45"/>
<circle cx="361.6" cy="280.1" r="3.6" fill="#fff" stroke="#9a9a9a" stroke-width="0.45"/>
<circle cx="371.4" cy="263.4" r="3.2" fill="#fff" stroke="#9a9a9a" stroke-width="0.45"/>
<circle cx="377.7" cy="279.4" r="2.6" fill="#f3e43c" fill-opacity="0.92" stroke="#777" stroke-width="0.3"/>
<circle cx="388.2" cy="293.3" r="2.6" fill="#e9c44c" fill-opacity="0.92" stroke="#777" stroke-width="0.3"/>
<circle cx="361.6" cy="297.7" r="2.6" fill="#f3e43c" fill-opacity="0.92" stroke="#777" stroke-width="0.3"/>
<circle cx="376.2" cy="304.2" r="2.6" fill="#f3e43c" fill-opacity="0.92" stroke="#777" stroke-width="0.3"/>
<circle cx="285.1" cy="256.3" r="2.3" fill="#f3e43c" fill-opacity="0.92" stroke="#777" stroke-width="0.3"/>
<circle cx="404" cy="299.1" r="2.3" fill="#f3e43c" fill-opacity="0.92" stroke="#777" stroke-width="0.3"/>
<ellipse cx="70.3" cy="156" rx="42" ry="50" transform="rotate(0 70.3 156)" fill="none" stroke="#000" stroke-width="2.1" stroke-dasharray="7.5 4.5"/>
<ellipse cx="127.5" cy="182" rx="17" ry="30" transform="rotate(-20 127.5 182)" fill="none" stroke="#000" stroke-width="2.1" stroke-dasharray="7.5 4.5"/>
<ellipse cx="168" cy="99.8" rx="26.3" ry="29.6" transform="rotate(0 168 99.8)" fill="none" stroke="#000" stroke-width="2.1" stroke-dasharray="7.5 4.5"/>
<ellipse cx="284" cy="110.5" rx="49.6" ry="41.7" transform="rotate(0 284 110.5)" fill="none" stroke="#000" stroke-width="2.1" stroke-dasharray="7.5 4.5"/>
<ellipse cx="414.3" cy="101" rx="16.2" ry="18.5" transform="rotate(0 414.3 101)" fill="none" stroke="#000" stroke-width="2.1" stroke-dasharray="7.5 4.5"/>
<ellipse cx="152" cy="289.6" rx="40.7" ry="25" transform="rotate(0 152 289.6)" fill="none" stroke="#000" stroke-width="2.1" stroke-dasharray="7.5 4.5"/>
<ellipse cx="65" cy="321.5" rx="20.4" ry="15.1" transform="rotate(0 65 321.5)" fill="none" stroke="#000" stroke-width="2.1" stroke-dasharray="7.5 4.5"/>
<ellipse cx="136" cy="348.5" rx="45" ry="18" transform="rotate(28.6 136 348.5)" fill="none" stroke="#000" stroke-width="2.1" stroke-dasharray="7.5 4.5"/>
<ellipse cx="381.3" cy="294.7" rx="27.4" ry="20.9" transform="rotate(0 381.3 294.7)" fill="none" stroke="#000" stroke-width="2.1" stroke-dasharray="7.5 4.5"/>
<text x="184.00" y="56.60" font-size="8.5" font-weight="normal" font-style="normal" text-anchor="middle" fill="#111" >Regulation of processes</text>
<text x="184.00" y="66.40" font-size="8.5" font-weight="normal" font-style="normal" text-anchor="middle" fill="#111" >and proliferation</text>
<text x="248.20" y="64.70" font-size="8.5" font-weight="normal" font-style="normal" text-anchor="start" fill="#111" >Metabolic and catabolic processes</text>
<text x="394.00" y="131.90" font-size="8.5" font-weight="normal" font-style="normal" text-anchor="start" fill="#111" >Development</text>
<text x="64.30" y="220.50" font-size="8.5" font-weight="normal" font-style="normal" text-anchor="middle" fill="#111" >Morphogenesis, development,</text>
<text x="64.30" y="230.40" font-size="8.5" font-weight="normal" font-style="normal" text-anchor="middle" fill="#111" >cell differentiation</text>
<text x="143.20" y="215.80" font-size="8.5" font-weight="normal" font-style="normal" text-anchor="start" fill="#111" >Signaling</text>
<text x="136.00" y="261.40" font-size="8.5" font-weight="normal" font-style="normal" text-anchor="start" fill="#111" >Channel activity</text>
<text x="59.00" y="351.00" font-size="8.5" font-weight="normal" font-style="normal" text-anchor="middle" fill="#111" >Transcription factor</text>
<text x="59.00" y="361.00" font-size="8.5" font-weight="normal" font-style="normal" text-anchor="middle" fill="#111" >activity</text>
<text x="101.00" y="393.20" font-size="8.5" font-weight="normal" font-style="normal" text-anchor="start" fill="#111" >Signal transducer activity</text>
<text x="345.80" y="327.60" font-size="8.5" font-weight="normal" font-style="normal" text-anchor="start" fill="#111" >Transporter activity</text>
<rect x="0" y="71.9" width="15.8" height="91.9" fill="#000"/>
<text transform="translate(11.6 117.9) rotate(-90)" font-size="8.5" font-weight="bold" fill="#fff" text-anchor="middle">Biological processes</text>
<rect x="0" y="269" width="15.9" height="88" fill="#000"/>
<text transform="translate(11.6 313) rotate(-90)" font-size="8.5" font-weight="bold" fill="#fff" text-anchor="middle">Molecular functions</text>
<defs><linearGradient id="pg" x1="0" x2="1" y1="0" y2="0"><stop offset="0" stop-color="#f8f200"/><stop offset="0.2" stop-color="#f6d21a"/><stop offset="0.45" stop-color="#f08a3c"/><stop offset="0.7" stop-color="#8a4a78"/><stop offset="1" stop-color="#141478"/></linearGradient></defs>
<rect x="307.5" y="351.5" width="91.1" height="41" fill="#fff" stroke="#000" stroke-width="1"/>
<text x="353.00" y="363.00" font-size="8.5" font-weight="normal" font-style="normal" text-anchor="middle" fill="#111" >p values</text>
<text x="312.80" y="375.80" font-size="8.5" font-weight="normal" font-style="normal" text-anchor="start" fill="#111" >1.0 E-2</text>
<text x="395.20" y="375.80" font-size="8.5" font-weight="normal" font-style="normal" text-anchor="end" fill="#111" >&lt;1.0 E-7</text>
<rect x="316.2" y="378.3" width="71.5" height="12.3" fill="url(#pg)" stroke="#000" stroke-width="0.8"/>
<text x="455.50" y="10.00" font-size="12" font-weight="bold" font-style="normal" text-anchor="start" fill="#000" >b</text>
<line x1="495.9" y1="46.40" x2="569.0" y2="46.40" stroke="#e2e2e2" stroke-width="0.8"/>
<line x1="495.9" y1="58.50" x2="569.0" y2="58.50" stroke="#e2e2e2" stroke-width="0.8"/>
<line x1="495.9" y1="70.60" x2="569.0" y2="70.60" stroke="#e2e2e2" stroke-width="0.8"/>
<line x1="495.9" y1="82.70" x2="569.0" y2="82.70" stroke="#e2e2e2" stroke-width="0.8"/>
<line x1="495.9" y1="94.80" x2="569.0" y2="94.80" stroke="#e2e2e2" stroke-width="0.8"/>
<line x1="495.9" y1="119.00" x2="569.0" y2="119.00" stroke="#e2e2e2" stroke-width="0.8"/>
<line x1="495.9" y1="131.10" x2="569.0" y2="131.10" stroke="#e2e2e2" stroke-width="0.8"/>
<polygon points="495.9,100.4 532.4,52.8 569.0,71.2 569.0,97.5 532.4,94 495.9,100.4" fill="#a9bce6"/>
<polygon points="495.9,113.2 532.4,114.5 569.0,112.7 569.0,121 532.4,125 495.9,113.2" fill="#f7c8a2"/>
<line x1="495.9" y1="106.90" x2="569.0" y2="106.90" stroke="#8a8a8a" stroke-width="1.6"/>
<polyline points="495.9,100.4 532.4,73.3 569.0,84.7" fill="none" stroke="#1c2858" stroke-width="1"/>
<polyline points="495.9,113.2 532.4,119.7 569.0,117.1" fill="none" stroke="#d0692a" stroke-width="1"/>
<line x1="495.9" y1="46.5" x2="495.9" y2="131.2" stroke="#666" stroke-width="1.3"/>
<text x="494.20" y="64.40" font-size="9.8" font-weight="normal" font-style="normal" text-anchor="end" fill="#111" >4</text>
<text x="494.20" y="88.60" font-size="9.8" font-weight="normal" font-style="normal" text-anchor="end" fill="#111" >2</text>
<text x="494.20" y="112.80" font-size="9.8" font-weight="normal" font-style="normal" text-anchor="end" fill="#111" >0</text>
<text x="494.20" y="137.00" font-size="9.8" font-weight="normal" font-style="normal" text-anchor="end" fill="#111" >-2</text>
<text transform="translate(470.8 93.4) rotate(-90)" font-size="8.5" text-anchor="middle" fill="#111">Gene expression</text>
<text transform="translate(481.3 93.4) rotate(-90)" font-size="8.5" text-anchor="middle" fill="#111">fold change</text>
<text transform="translate(500 42) rotate(-47)" font-size="9" fill="#111">si-CTL</text>
<text transform="translate(534 42) rotate(-47)" font-size="9" fill="#111">si-Rsl24d1</text>
<text transform="translate(567.5 42) rotate(-47)" font-size="9" fill="#111">rescue</text>
<rect x="574.2" y="57" width="110.2" height="62.6" fill="#fff" stroke="#000" stroke-width="1.3"/>
<line x1="579" y1="65.4" x2="593" y2="65.4" stroke="#0c1a5c" stroke-width="2"/>
<rect x="579" y="75" width="14" height="8" fill="#93acd9"/>
<line x1="579" y1="97.3" x2="593" y2="97.3" stroke="#a4460f" stroke-width="2"/>
<rect x="579" y="107.3" width="14" height="8" fill="#f8c091"/>
<text x="598.60" y="68.90" font-size="8.5" font-weight="normal" font-style="normal" text-anchor="start" fill="#111" >Upregulated genes</text>
<text x="598.60" y="82.00" font-size="8.5" font-weight="normal" font-style="normal" text-anchor="start" fill="#111" >Standard deviation</text>
<text x="598.60" y="101.20" font-size="8.5" font-weight="normal" font-style="normal" text-anchor="start" fill="#111" >Downregulated genes</text>
<text x="598.60" y="114.80" font-size="8.5" font-weight="normal" font-style="normal" text-anchor="start" fill="#111" >Standard deviation</text>
<text x="455.50" y="177.40" font-size="12" font-weight="bold" font-style="normal" text-anchor="start" fill="#000" >c</text>
<text x="512.20" y="178.50" font-size="8.5" font-weight="normal" font-style="normal" text-anchor="start" fill="#111" >Target gene significant overlap scores</text>
<rect x="511.7" y="184.4" width="115.2" height="28.8" fill="#fff" stroke="#000" stroke-width="1"/>
<rect x="516.4" y="188.6" width="14.2" height="7.8" fill="#000"/>
<rect x="516.4" y="201.3" width="14.2" height="8.4" fill="#a6a6a6" stroke="#6a6a6a" stroke-width="0.8"/>
<text x="537.10" y="195.60" font-size="8.5" font-weight="normal" font-style="normal" text-anchor="start" fill="#111" >Upregulated genes</text>
<text x="537.10" y="208.60" font-size="8.5" font-weight="normal" font-style="normal" text-anchor="start" fill="#111" >Downregulated genes</text>
<defs><clipPath id="medclip"><polygon points="571.10,275.80 580.99,279.37 587.21,287.63 584.85,299.81 591.74,303.09 583.60,309.80 612.00,323.09 597.31,328.84 598.14,347.01 583.68,348.51 571.10,348.30 559.67,344.99 555.82,330.83 554.92,321.56 548.75,317.06 559.90,309.80 559.69,306.09 558.48,300.63 554.64,287.15 560.28,276.51"/></clipPath><clipPath id="upclip"><polygon points="571.10,245.30 590.88,248.93 604.49,263.85 613.57,278.94 619.41,294.10 621.10,309.80 618.65,325.25 609.12,337.43 596.96,345.40 580.37,338.33 571.10,329.80 566.77,323.11 562.87,321.13 556.54,320.38 547.32,317.53 531.70,309.80 532.11,297.13 540.76,287.76 550.35,281.24 562.45,283.17"/></clipPath></defs>
<g fill="none" stroke="#bdbdbd" stroke-width="0.7">
<polygon points="571.10,300.43 574.00,300.88 576.61,302.22 578.68,304.29 580.02,306.90 580.48,309.80 580.02,312.70 578.68,315.31 576.61,317.38 574.00,318.72 571.10,319.18 568.20,318.72 565.59,317.38 563.52,315.31 562.18,312.70 561.73,309.80 562.18,306.90 563.52,304.29 565.59,302.22 568.20,300.88"/>
<polygon points="571.10,291.05 576.89,291.97 582.12,294.63 586.27,298.78 588.93,304.01 589.85,309.80 588.93,315.59 586.27,320.82 582.12,324.97 576.89,327.63 571.10,328.55 565.31,327.63 560.08,324.97 555.93,320.82 553.27,315.59 552.35,309.80 553.27,304.01 555.93,298.78 560.08,294.63 565.31,291.97"/>
<polygon points="571.10,281.68 579.79,283.05 587.63,287.05 593.85,293.27 597.85,301.11 599.23,309.80 597.85,318.49 593.85,326.33 587.63,332.55 579.79,336.55 571.10,337.93 562.41,336.55 554.57,332.55 548.35,326.33 544.35,318.49 542.98,309.80 544.35,301.11 548.35,293.27 554.57,287.05 562.41,283.05"/>
<polygon points="571.10,272.30 582.69,274.14 593.14,279.46 601.44,287.76 606.76,298.21 608.60,309.80 606.76,321.39 601.44,331.84 593.14,340.14 582.69,345.46 571.10,347.30 559.51,345.46 549.06,340.14 540.76,331.84 535.44,321.39 533.60,309.80 535.44,298.21 540.76,287.76 549.06,279.46 559.51,274.14"/>
<polygon points="571.10,262.93 585.59,265.22 598.65,271.88 609.02,282.25 615.68,295.31 617.98,309.80 615.68,324.29 609.02,337.35 598.65,347.72 585.59,354.38 571.10,356.68 556.61,354.38 543.55,347.72 533.18,337.35 526.52,324.29 524.23,309.80 526.52,295.31 533.18,282.25 543.55,271.88 556.61,265.22"/>
<polygon points="571.10,253.55 588.48,256.30 604.16,264.29 616.61,276.74 624.60,292.42 627.35,309.80 624.60,327.18 616.61,342.86 604.16,355.31 588.48,363.30 571.10,366.05 553.72,363.30 538.04,355.31 525.59,342.86 517.60,327.18 514.85,309.80 517.60,292.42 525.59,276.74 538.04,264.29 553.72,256.30"/>
<polygon points="571.10,244.18 591.38,247.39 609.67,256.71 624.19,271.23 633.51,289.52 636.73,309.80 633.51,330.08 624.19,348.37 609.67,362.89 591.38,372.21 571.10,375.43 550.82,372.21 532.53,362.89 518.01,348.37 508.69,330.08 505.48,309.80 508.69,289.52 518.01,271.23 532.53,256.71 550.82,247.39"/>
<polygon points="571.10,234.80 594.28,238.47 615.18,249.12 631.78,265.72 642.43,286.62 646.10,309.80 642.43,332.98 631.78,353.88 615.18,370.48 594.28,381.13 571.10,384.80 547.92,381.13 527.02,370.48 510.42,353.88 499.77,332.98 496.10,309.80 499.77,286.62 510.42,265.72 527.02,249.12 547.92,238.47"/>
</g>
<g stroke="#777" stroke-width="0.5" stroke-dasharray="1 1.2">
<line x1="571.1" y1="309.8" x2="571.10" y2="234.80"/>
<line x1="571.1" y1="309.8" x2="594.28" y2="238.47"/>
<line x1="571.1" y1="309.8" x2="615.18" y2="249.12"/>
<line x1="571.1" y1="309.8" x2="631.78" y2="265.72"/>
<line x1="571.1" y1="309.8" x2="642.43" y2="286.62"/>
<line x1="571.1" y1="309.8" x2="646.10" y2="309.80"/>
<line x1="571.1" y1="309.8" x2="642.43" y2="332.98"/>
<line x1="571.1" y1="309.8" x2="631.78" y2="353.88"/>
<line x1="571.1" y1="309.8" x2="615.18" y2="370.48"/>
<line x1="571.1" y1="309.8" x2="594.28" y2="381.13"/>
<line x1="571.1" y1="309.8" x2="571.10" y2="384.80"/>
<line x1="571.1" y1="309.8" x2="547.92" y2="381.13"/>
<line x1="571.1" y1="309.8" x2="527.02" y2="370.48"/>
<line x1="571.1" y1="309.8" x2="510.42" y2="353.88"/>
<line x1="571.1" y1="309.8" x2="499.77" y2="332.98"/>
<line x1="571.1" y1="309.8" x2="496.10" y2="309.80"/>
<line x1="571.1" y1="309.8" x2="499.77" y2="286.62"/>
<line x1="571.1" y1="309.8" x2="510.42" y2="265.72"/>
<line x1="571.1" y1="309.8" x2="527.02" y2="249.12"/>
<line x1="571.1" y1="309.8" x2="547.92" y2="238.47"/>
</g>
<polygon points="571.10,279.80 579.75,283.17 586.38,288.77 584.04,300.40 590.12,303.62 585.10,309.80 605.34,320.92 606.70,335.66 599.31,348.63 585.93,355.45 571.10,355.30 557.32,352.22 544.77,346.04 538.58,333.43 546.94,317.65 551.10,309.80 553.98,304.24 556.54,299.22 553.47,285.53 559.98,275.56" fill="#c4c4c4" fill-opacity="0.62" stroke="#a2a2a2" stroke-width="2"/>
<polygon points="571.10,245.30 590.88,248.93 604.49,263.85 613.57,278.94 619.41,294.10 621.10,309.80 618.65,325.25 609.12,337.43 596.96,345.40 580.37,338.33 571.10,329.80 566.77,323.11 562.87,321.13 556.54,320.38 547.32,317.53 531.70,309.80 532.11,297.13 540.76,287.76 550.35,281.24 562.45,283.17" fill="#4f4f4f" stroke="#000" stroke-width="2"/>
<g clip-path="url(#upclip)">
<g fill="none" stroke="#000" stroke-opacity="0.3" stroke-width="0.6">
<polygon points="571.10,300.43 574.00,300.88 576.61,302.22 578.68,304.29 580.02,306.90 580.48,309.80 580.02,312.70 578.68,315.31 576.61,317.38 574.00,318.72 571.10,319.18 568.20,318.72 565.59,317.38 563.52,315.31 562.18,312.70 561.73,309.80 562.18,306.90 563.52,304.29 565.59,302.22 568.20,300.88"/>
<polygon points="571.10,291.05 576.89,291.97 582.12,294.63 586.27,298.78 588.93,304.01 589.85,309.80 588.93,315.59 586.27,320.82 582.12,324.97 576.89,327.63 571.10,328.55 565.31,327.63 560.08,324.97 555.93,320.82 553.27,315.59 552.35,309.80 553.27,304.01 555.93,298.78 560.08,294.63 565.31,291.97"/>
<polygon points="571.10,281.68 579.79,283.05 587.63,287.05 593.85,293.27 597.85,301.11 599.23,309.80 597.85,318.49 593.85,326.33 587.63,332.55 579.79,336.55 571.10,337.93 562.41,336.55 554.57,332.55 548.35,326.33 544.35,318.49 542.98,309.80 544.35,301.11 548.35,293.27 554.57,287.05 562.41,283.05"/>
<polygon points="571.10,272.30 582.69,274.14 593.14,279.46 601.44,287.76 606.76,298.21 608.60,309.80 606.76,321.39 601.44,331.84 593.14,340.14 582.69,345.46 571.10,347.30 559.51,345.46 549.06,340.14 540.76,331.84 535.44,321.39 533.60,309.80 535.44,298.21 540.76,287.76 549.06,279.46 559.51,274.14"/>
<polygon points="571.10,262.93 585.59,265.22 598.65,271.88 609.02,282.25 615.68,295.31 617.98,309.80 615.68,324.29 609.02,337.35 598.65,347.72 585.59,354.38 571.10,356.68 556.61,354.38 543.55,347.72 533.18,337.35 526.52,324.29 524.23,309.80 526.52,295.31 533.18,282.25 543.55,271.88 556.61,265.22"/>
<polygon points="571.10,253.55 588.48,256.30 604.16,264.29 616.61,276.74 624.60,292.42 627.35,309.80 624.60,327.18 616.61,342.86 604.16,355.31 588.48,363.30 571.10,366.05 553.72,363.30 538.04,355.31 525.59,342.86 517.60,327.18 514.85,309.80 517.60,292.42 525.59,276.74 538.04,264.29 553.72,256.30"/>
<polygon points="571.10,244.18 591.38,247.39 609.67,256.71 624.19,271.23 633.51,289.52 636.73,309.80 633.51,330.08 624.19,348.37 609.67,362.89 591.38,372.21 571.10,375.43 550.82,372.21 532.53,362.89 518.01,348.37 508.69,330.08 505.48,309.80 508.69,289.52 518.01,271.23 532.53,256.71 550.82,247.39"/>
<polygon points="571.10,234.80 594.28,238.47 615.18,249.12 631.78,265.72 642.43,286.62 646.10,309.80 642.43,332.98 631.78,353.88 615.18,370.48 594.28,381.13 571.10,384.80 547.92,381.13 527.02,370.48 510.42,353.88 499.77,332.98 496.10,309.80 499.77,286.62 510.42,265.72 527.02,249.12 547.92,238.47"/>
</g>
</g>
<polygon points="571.10,275.80 580.99,279.37 587.21,287.63 584.85,299.81 591.74,303.09 583.60,309.80 612.00,323.09 597.31,328.84 598.14,347.01 583.68,348.51 571.10,348.30 559.67,344.99 555.82,330.83 554.92,321.56 548.75,317.06 559.90,309.80 559.69,306.09 558.48,300.63 554.64,287.15 560.28,276.51" fill="#a8a8a8" stroke="#9a9a9a" stroke-width="0.6"/>
<g clip-path="url(#medclip)">
<g fill="none" stroke="#000" stroke-opacity="0.07" stroke-width="0.6">
<polygon points="571.10,300.43 574.00,300.88 576.61,302.22 578.68,304.29 580.02,306.90 580.48,309.80 580.02,312.70 578.68,315.31 576.61,317.38 574.00,318.72 571.10,319.18 568.20,318.72 565.59,317.38 563.52,315.31 562.18,312.70 561.73,309.80 562.18,306.90 563.52,304.29 565.59,302.22 568.20,300.88"/>
<polygon points="571.10,291.05 576.89,291.97 582.12,294.63 586.27,298.78 588.93,304.01 589.85,309.80 588.93,315.59 586.27,320.82 582.12,324.97 576.89,327.63 571.10,328.55 565.31,327.63 560.08,324.97 555.93,320.82 553.27,315.59 552.35,309.80 553.27,304.01 555.93,298.78 560.08,294.63 565.31,291.97"/>
<polygon points="571.10,281.68 579.79,283.05 587.63,287.05 593.85,293.27 597.85,301.11 599.23,309.80 597.85,318.49 593.85,326.33 587.63,332.55 579.79,336.55 571.10,337.93 562.41,336.55 554.57,332.55 548.35,326.33 544.35,318.49 542.98,309.80 544.35,301.11 548.35,293.27 554.57,287.05 562.41,283.05"/>
<polygon points="571.10,272.30 582.69,274.14 593.14,279.46 601.44,287.76 606.76,298.21 608.60,309.80 606.76,321.39 601.44,331.84 593.14,340.14 582.69,345.46 571.10,347.30 559.51,345.46 549.06,340.14 540.76,331.84 535.44,321.39 533.60,309.80 535.44,298.21 540.76,287.76 549.06,279.46 559.51,274.14"/>
<polygon points="571.10,262.93 585.59,265.22 598.65,271.88 609.02,282.25 615.68,295.31 617.98,309.80 615.68,324.29 609.02,337.35 598.65,347.72 585.59,354.38 571.10,356.68 556.61,354.38 543.55,347.72 533.18,337.35 526.52,324.29 524.23,309.80 526.52,295.31 533.18,282.25 543.55,271.88 556.61,265.22"/>
<polygon points="571.10,253.55 588.48,256.30 604.16,264.29 616.61,276.74 624.60,292.42 627.35,309.80 624.60,327.18 616.61,342.86 604.16,355.31 588.48,363.30 571.10,366.05 553.72,363.30 538.04,355.31 525.59,342.86 517.60,327.18 514.85,309.80 517.60,292.42 525.59,276.74 538.04,264.29 553.72,256.30"/>
<polygon points="571.10,244.18 591.38,247.39 609.67,256.71 624.19,271.23 633.51,289.52 636.73,309.80 633.51,330.08 624.19,348.37 609.67,362.89 591.38,372.21 571.10,375.43 550.82,372.21 532.53,362.89 518.01,348.37 508.69,330.08 505.48,309.80 508.69,289.52 518.01,271.23 532.53,256.71 550.82,247.39"/>
<polygon points="571.10,234.80 594.28,238.47 615.18,249.12 631.78,265.72 642.43,286.62 646.10,309.80 642.43,332.98 631.78,353.88 615.18,370.48 594.28,381.13 571.10,384.80 547.92,381.13 527.02,370.48 510.42,353.88 499.77,332.98 496.10,309.80 499.77,286.62 510.42,265.72 527.02,249.12 547.92,238.47"/>
</g>
<g stroke="#6a6a6a" stroke-width="0.5" stroke-dasharray="1 1.2">
<line x1="571.1" y1="309.8" x2="571.10" y2="234.80"/>
<line x1="571.1" y1="309.8" x2="594.28" y2="238.47"/>
<line x1="571.1" y1="309.8" x2="615.18" y2="249.12"/>
<line x1="571.1" y1="309.8" x2="631.78" y2="265.72"/>
<line x1="571.1" y1="309.8" x2="642.43" y2="286.62"/>
<line x1="571.1" y1="309.8" x2="646.10" y2="309.80"/>
<line x1="571.1" y1="309.8" x2="642.43" y2="332.98"/>
<line x1="571.1" y1="309.8" x2="631.78" y2="353.88"/>
<line x1="571.1" y1="309.8" x2="615.18" y2="370.48"/>
<line x1="571.1" y1="309.8" x2="594.28" y2="381.13"/>
<line x1="571.1" y1="309.8" x2="571.10" y2="384.80"/>
<line x1="571.1" y1="309.8" x2="547.92" y2="381.13"/>
<line x1="571.1" y1="309.8" x2="527.02" y2="370.48"/>
<line x1="571.1" y1="309.8" x2="510.42" y2="353.88"/>
<line x1="571.1" y1="309.8" x2="499.77" y2="332.98"/>
<line x1="571.1" y1="309.8" x2="496.10" y2="309.80"/>
<line x1="571.1" y1="309.8" x2="499.77" y2="286.62"/>
<line x1="571.1" y1="309.8" x2="510.42" y2="265.72"/>
<line x1="571.1" y1="309.8" x2="527.02" y2="249.12"/>
<line x1="571.1" y1="309.8" x2="547.92" y2="238.47"/>
</g>
</g>
<circle cx="571.1" cy="309.8" r="1.6" fill="none" stroke="#444" stroke-width="0.6"/>
<text x="571.00" y="227.90" font-size="6.8" font-weight="normal" font-style="normal" text-anchor="middle" fill="#000" >Suz12</text>
<text x="595.50" y="236.80" font-size="6.8" font-weight="normal" font-style="normal" text-anchor="start" fill="#000" >Ezh2</text>
<text x="617.80" y="248.20" font-size="6.8" font-weight="normal" font-style="normal" text-anchor="start" fill="#000" >Ring1b</text>
<text x="635.00" y="265.60" font-size="6.8" font-weight="normal" font-style="normal" text-anchor="start" fill="#000" >Phc1</text>
<text x="646.80" y="287.40" font-size="6.8" font-weight="normal" font-style="normal" text-anchor="start" fill="#000" >Rnf2</text>
<text x="650.10" y="311.90" font-size="6.8" font-weight="normal" font-style="normal" text-anchor="start" fill="#000" >Eed</text>
<text x="646.50" y="336.60" font-size="6.8" font-weight="normal" font-style="normal" text-anchor="start" fill="#000" >Tcf3</text>
<text x="634.90" y="358.60" font-size="6.8" font-weight="normal" font-style="normal" text-anchor="start" fill="#000" >Pu1</text>
<text x="617.60" y="375.80" font-size="6.8" font-weight="normal" font-style="normal" text-anchor="start" fill="#000" >Pou5f1</text>
<text x="595.90" y="386.70" font-size="6.8" font-weight="normal" font-style="normal" text-anchor="start" fill="#000" >Nanog</text>
<text x="571.00" y="396.30" font-size="6.8" font-weight="normal" font-style="normal" text-anchor="middle" fill="#000" >Sox2</text>
<text x="546.40" y="386.60" font-size="6.8" font-weight="normal" font-style="normal" text-anchor="end" fill="#000" >Klf4</text>
<text x="524.50" y="375.70" font-size="6.8" font-weight="normal" font-style="normal" text-anchor="end" fill="#000" >Nr0b1</text>
<text x="506.90" y="358.50" font-size="6.8" font-weight="normal" font-style="normal" text-anchor="end" fill="#000" >Stat3</text>
<text x="496.00" y="336.60" font-size="6.8" font-weight="normal" font-style="normal" text-anchor="end" fill="#000" >Tbx3</text>
<text x="492.00" y="312.00" font-size="6.8" font-weight="normal" font-style="normal" text-anchor="end" fill="#000" >Meis1</text>
<text x="495.90" y="287.40" font-size="6.8" font-weight="normal" font-style="normal" text-anchor="end" fill="#000" >Fli1</text>
<text x="506.80" y="266.10" font-size="6.8" font-weight="normal" font-style="normal" text-anchor="end" fill="#000" >Lyl1</text>
<text x="525.20" y="248.50" font-size="6.8" font-weight="normal" font-style="normal" text-anchor="end" fill="#000" >Gfi1b</text>
<text x="547.00" y="237.10" font-size="6.8" font-weight="normal" font-style="normal" text-anchor="end" fill="#000" >Max</text>
<text x="4.90" y="430.70" font-size="12" font-weight="bold" font-style="normal" text-anchor="start" fill="#000" >d</text>
<rect x="70.4" y="425.8" width="110.5" height="41.6" fill="#fff" stroke="#000" stroke-width="1"/>
<rect x="73.9" y="429.8" width="13.7" height="7.5" fill="#fff" stroke="#333" stroke-width="0.8"/>
<rect x="73.9" y="442.9" width="13.7" height="7.9" fill="#000"/>
<rect x="73.9" y="456.4" width="13.7" height="8.1" fill="#a6a6a6" stroke="#333" stroke-width="0.8"/>
<text x="93.80" y="436.70" font-size="8.5" font-weight="normal" font-style="normal" text-anchor="start" fill="#111" >Expressed genes</text>
<text x="93.80" y="450.40" font-size="8.5" font-weight="normal" font-style="normal" text-anchor="start" fill="#111" >Upregulated genes</text>
<text x="93.80" y="464.00" font-size="8.5" font-weight="normal" font-style="normal" text-anchor="start" fill="#111" >Downregulated genes</text>
<line x1="60.3" y1="480" x2="60.3" y2="594.4" stroke="#333" stroke-width="0.9"/>
<line x1="60.3" y1="594.4" x2="345" y2="594.4" stroke="#333" stroke-width="0.9"/>
<line x1="56.8" y1="594.40" x2="60.3" y2="594.40" stroke="#333" stroke-width="0.9"/>
<text x="52.50" y="597.80" font-size="9.5" font-weight="normal" font-style="normal" text-anchor="end" fill="#111" >0</text>
<line x1="56.8" y1="556.27" x2="60.3" y2="556.27" stroke="#333" stroke-width="0.9"/>
<text x="52.50" y="559.67" font-size="9.5" font-weight="normal" font-style="normal" text-anchor="end" fill="#111" >20</text>
<line x1="56.8" y1="518.13" x2="60.3" y2="518.13" stroke="#333" stroke-width="0.9"/>
<text x="52.50" y="521.53" font-size="9.5" font-weight="normal" font-style="normal" text-anchor="end" fill="#111" >40</text>
<line x1="56.8" y1="480.00" x2="60.3" y2="480.00" stroke="#333" stroke-width="0.9"/>
<text x="52.50" y="483.40" font-size="9.5" font-weight="normal" font-style="normal" text-anchor="end" fill="#111" >60</text>
<text transform="translate(20.8 536.5) rotate(-90)" font-size="8.5" text-anchor="middle" fill="#111">% of affected genes with binding</text>
<text transform="translate(30.8 536.5) rotate(-90)" font-size="8.5" text-anchor="middle" fill="#111">sites in promoter regions</text>
<rect x="64.20" y="556.27" width="5.6" height="38.13" fill="#fff" stroke="#444" stroke-width="0.8"/>
<rect x="72.70" y="577.24" width="5.6" height="17.16" fill="#000" stroke="#000" stroke-width="0.8"/>
<rect x="80.80" y="560.08" width="5.6" height="34.32" fill="#b4b4b4" stroke="#444" stroke-width="0.8"/>
<line x1="75.40" y1="594.4" x2="75.40" y2="598.2" stroke="#333" stroke-width="0.9"/>
<polyline points="64.60,553.20 64.60,550.20 74.50,550.20 74.50,553.20" fill="none" stroke="#111" stroke-width="1.5"/>
<text x="69.55" y="551.10" font-size="6.2" font-weight="bold" font-style="normal" text-anchor="middle" fill="#1a1a1a" letter-spacing="0.15">****</text>
<polyline points="76.70,553.20 76.70,550.20 86.00,550.20 86.00,553.20" fill="none" stroke="#111" stroke-width="1.5"/>
<text x="81.35" y="551.10" font-size="6.2" font-weight="bold" font-style="normal" text-anchor="middle" fill="#1a1a1a" letter-spacing="0.15">***</text>
<polyline points="64.60,542.10 64.60,539.10 85.20,539.10 85.20,542.10" fill="none" stroke="#111" stroke-width="1.5"/>
<text x="74.90" y="537.50" font-size="7.2" font-weight="normal" font-style="normal" text-anchor="middle" fill="#222" >n.s.</text>
<text transform="translate(78.90 604.5) rotate(-50)" font-size="9" text-anchor="end" fill="#111">Pou5f1</text>
<rect x="96.06" y="553.41" width="5.6" height="40.99" fill="#fff" stroke="#444" stroke-width="0.8"/>
<rect x="104.56" y="575.33" width="5.6" height="19.07" fill="#000" stroke="#000" stroke-width="0.8"/>
<rect x="112.66" y="550.16" width="5.6" height="44.24" fill="#b4b4b4" stroke="#444" stroke-width="0.8"/>
<line x1="107.26" y1="594.4" x2="107.26" y2="598.2" stroke="#333" stroke-width="0.9"/>
<polyline points="96.46,547.20 96.46,544.20 106.36,544.20 106.36,547.20" fill="none" stroke="#111" stroke-width="1.5"/>
<text x="101.41" y="545.10" font-size="6.2" font-weight="bold" font-style="normal" text-anchor="middle" fill="#1a1a1a" letter-spacing="0.15">****</text>
<polyline points="108.56,547.20 108.56,544.20 117.86,544.20 117.86,547.20" fill="none" stroke="#111" stroke-width="1.5"/>
<text x="113.21" y="545.10" font-size="6.2" font-weight="bold" font-style="normal" text-anchor="middle" fill="#1a1a1a" letter-spacing="0.15">****</text>
<polyline points="96.46,535.80 96.46,532.80 117.06,532.80 117.06,535.80" fill="none" stroke="#111" stroke-width="1.5"/>
<text x="106.76" y="531.20" font-size="7.2" font-weight="normal" font-style="normal" text-anchor="middle" fill="#222" >n.s.</text>
<text transform="translate(110.76 604.5) rotate(-50)" font-size="9" text-anchor="end" fill="#111">Nanog</text>
<rect x="127.92" y="569.23" width="5.6" height="25.17" fill="#fff" stroke="#444" stroke-width="0.8"/>
<rect x="136.42" y="574.95" width="5.6" height="19.45" fill="#000" stroke="#000" stroke-width="0.8"/>
<rect x="144.52" y="559.51" width="5.6" height="34.89" fill="#b4b4b4" stroke="#444" stroke-width="0.8"/>
<line x1="139.12" y1="594.4" x2="139.12" y2="598.2" stroke="#333" stroke-width="0.9"/>
<polyline points="128.32,565.70 128.32,562.70 138.22,562.70 138.22,565.70" fill="none" stroke="#111" stroke-width="1.5"/>
<text x="133.27" y="563.60" font-size="6.2" font-weight="bold" font-style="normal" text-anchor="middle" fill="#1a1a1a" letter-spacing="0.15">**</text>
<polyline points="140.42,557.30 140.42,554.30 149.72,554.30 149.72,557.30" fill="none" stroke="#111" stroke-width="1.5"/>
<text x="145.07" y="555.20" font-size="6.2" font-weight="bold" font-style="normal" text-anchor="middle" fill="#1a1a1a" letter-spacing="0.15">***</text>
<polyline points="128.32,546.20 128.32,543.20 148.92,543.20 148.92,546.20" fill="none" stroke="#111" stroke-width="1.5"/>
<text x="138.62" y="544.10" font-size="6.2" font-weight="bold" font-style="normal" text-anchor="middle" fill="#1a1a1a" letter-spacing="0.15">*</text>
<text transform="translate(142.62 604.5) rotate(-50)" font-size="9" text-anchor="end" fill="#111">Sox2</text>
<rect x="159.78" y="554.74" width="5.6" height="39.66" fill="#fff" stroke="#444" stroke-width="0.8"/>
<rect x="168.28" y="565.80" width="5.6" height="28.60" fill="#000" stroke="#000" stroke-width="0.8"/>
<rect x="176.38" y="563.89" width="5.6" height="30.51" fill="#b4b4b4" stroke="#444" stroke-width="0.8"/>
<line x1="170.98" y1="594.4" x2="170.98" y2="598.2" stroke="#333" stroke-width="0.9"/>
<polyline points="160.18,552.60 160.18,549.60 170.08,549.60 170.08,552.60" fill="none" stroke="#111" stroke-width="1.5"/>
<text x="165.13" y="550.50" font-size="6.2" font-weight="bold" font-style="normal" text-anchor="middle" fill="#1a1a1a" letter-spacing="0.15">****</text>
<polyline points="172.28,559.30 172.28,556.30 181.58,556.30 181.58,559.30" fill="none" stroke="#111" stroke-width="1.5"/>
<text x="176.93" y="554.70" font-size="7.2" font-weight="normal" font-style="normal" text-anchor="middle" fill="#222" >n.s.</text>
<polyline points="160.18,540.60 160.18,537.60 180.78,537.60 180.78,540.60" fill="none" stroke="#111" stroke-width="1.5"/>
<text x="170.48" y="536.00" font-size="7.2" font-weight="normal" font-style="normal" text-anchor="middle" fill="#222" >n.s.</text>
<text transform="translate(174.48 604.5) rotate(-50)" font-size="9" text-anchor="end" fill="#111">Smad4</text>
<rect x="191.64" y="560.84" width="5.6" height="33.56" fill="#fff" stroke="#444" stroke-width="0.8"/>
<rect x="200.14" y="525.00" width="5.6" height="69.40" fill="#000" stroke="#000" stroke-width="0.8"/>
<rect x="208.24" y="551.88" width="5.6" height="42.52" fill="#b4b4b4" stroke="#444" stroke-width="0.8"/>
<line x1="202.84" y1="594.4" x2="202.84" y2="598.2" stroke="#333" stroke-width="0.9"/>
<polyline points="192.04,522.50 192.04,519.50 201.94,519.50 201.94,522.50" fill="none" stroke="#111" stroke-width="1.5"/>
<text x="196.99" y="520.40" font-size="6.2" font-weight="bold" font-style="normal" text-anchor="middle" fill="#1a1a1a" letter-spacing="0.15">****</text>
<polyline points="204.14,522.50 204.14,519.50 213.44,519.50 213.44,522.50" fill="none" stroke="#111" stroke-width="1.5"/>
<text x="208.79" y="520.40" font-size="6.2" font-weight="bold" font-style="normal" text-anchor="middle" fill="#1a1a1a" letter-spacing="0.15">****</text>
<polyline points="192.04,511.00 192.04,508.00 212.64,508.00 212.64,511.00" fill="none" stroke="#111" stroke-width="1.5"/>
<text x="202.34" y="508.90" font-size="6.2" font-weight="bold" font-style="normal" text-anchor="middle" fill="#1a1a1a" letter-spacing="0.15">*</text>
<text transform="translate(206.34 604.5) rotate(-50)" font-size="9" text-anchor="end" fill="#111">Ezh2</text>
<rect x="223.50" y="553.79" width="5.6" height="40.61" fill="#fff" stroke="#444" stroke-width="0.8"/>
<rect x="232.00" y="513.75" width="5.6" height="80.65" fill="#000" stroke="#000" stroke-width="0.8"/>
<rect x="240.10" y="543.30" width="5.6" height="51.10" fill="#b4b4b4" stroke="#444" stroke-width="0.8"/>
<line x1="234.70" y1="594.4" x2="234.70" y2="598.2" stroke="#333" stroke-width="0.9"/>
<polyline points="223.90,511.50 223.90,508.50 233.80,508.50 233.80,511.50" fill="none" stroke="#111" stroke-width="1.5"/>
<text x="228.85" y="509.40" font-size="6.2" font-weight="bold" font-style="normal" text-anchor="middle" fill="#1a1a1a" letter-spacing="0.15">****</text>
<polyline points="236.00,511.50 236.00,508.50 245.30,508.50 245.30,511.50" fill="none" stroke="#111" stroke-width="1.5"/>
<text x="240.65" y="509.40" font-size="6.2" font-weight="bold" font-style="normal" text-anchor="middle" fill="#1a1a1a" letter-spacing="0.15">****</text>
<polyline points="223.90,499.40 223.90,496.40 244.50,496.40 244.50,499.40" fill="none" stroke="#111" stroke-width="1.5"/>
<text x="234.20" y="497.30" font-size="6.2" font-weight="bold" font-style="normal" text-anchor="middle" fill="#1a1a1a" letter-spacing="0.15">*</text>
<text transform="translate(238.20 604.5) rotate(-50)" font-size="9" text-anchor="end" fill="#111">Suz12</text>
<rect x="255.36" y="573.43" width="5.6" height="20.97" fill="#fff" stroke="#444" stroke-width="0.8"/>
<rect x="263.86" y="549.02" width="5.6" height="45.38" fill="#000" stroke="#000" stroke-width="0.8"/>
<rect x="271.96" y="565.23" width="5.6" height="29.17" fill="#b4b4b4" stroke="#444" stroke-width="0.8"/>
<line x1="266.56" y1="594.4" x2="266.56" y2="598.2" stroke="#333" stroke-width="0.9"/>
<polyline points="255.76,546.10 255.76,543.10 265.66,543.10 265.66,546.10" fill="none" stroke="#111" stroke-width="1.5"/>
<text x="260.71" y="544.00" font-size="6.2" font-weight="bold" font-style="normal" text-anchor="middle" fill="#1a1a1a" letter-spacing="0.15">****</text>
<polyline points="267.86,546.10 267.86,543.10 277.16,543.10 277.16,546.10" fill="none" stroke="#111" stroke-width="1.5"/>
<text x="272.51" y="544.00" font-size="6.2" font-weight="bold" font-style="normal" text-anchor="middle" fill="#1a1a1a" letter-spacing="0.15">**</text>
<polyline points="255.76,534.90 255.76,531.90 276.36,531.90 276.36,534.90" fill="none" stroke="#111" stroke-width="1.5"/>
<text x="266.06" y="532.80" font-size="6.2" font-weight="bold" font-style="normal" text-anchor="middle" fill="#1a1a1a" letter-spacing="0.15">*</text>
<text transform="translate(270.06 604.5) rotate(-50)" font-size="9" text-anchor="end" fill="#111">Eed</text>
<rect x="287.22" y="523.09" width="5.6" height="71.31" fill="#fff" stroke="#444" stroke-width="0.8"/>
<rect x="295.72" y="506.12" width="5.6" height="88.28" fill="#000" stroke="#000" stroke-width="0.8"/>
<rect x="303.82" y="518.51" width="5.6" height="75.89" fill="#b4b4b4" stroke="#444" stroke-width="0.8"/>
<line x1="298.42" y1="594.4" x2="298.42" y2="598.2" stroke="#333" stroke-width="0.9"/>
<polyline points="287.62,503.60 287.62,500.60 297.52,500.60 297.52,503.60" fill="none" stroke="#111" stroke-width="1.5"/>
<text x="292.57" y="501.50" font-size="6.2" font-weight="bold" font-style="normal" text-anchor="middle" fill="#1a1a1a" letter-spacing="0.15">****</text>
<polyline points="299.72,503.60 299.72,500.60 309.02,500.60 309.02,503.60" fill="none" stroke="#111" stroke-width="1.5"/>
<text x="304.37" y="501.50" font-size="6.2" font-weight="bold" font-style="normal" text-anchor="middle" fill="#1a1a1a" letter-spacing="0.15">*</text>
<polyline points="287.62,491.90 287.62,488.90 308.22,488.90 308.22,491.90" fill="none" stroke="#111" stroke-width="1.5"/>
<text x="297.92" y="487.30" font-size="7.2" font-weight="normal" font-style="normal" text-anchor="middle" fill="#222" >n.s.</text>
<text transform="translate(301.92 604.5) rotate(-50)" font-size="9" text-anchor="end" fill="#111">Rnf2</text>
<rect x="319.08" y="517.37" width="5.6" height="77.03" fill="#fff" stroke="#444" stroke-width="0.8"/>
<rect x="327.58" y="538.92" width="5.6" height="55.48" fill="#000" stroke="#000" stroke-width="0.8"/>
<rect x="335.68" y="532.62" width="5.6" height="61.78" fill="#b4b4b4" stroke="#444" stroke-width="0.8"/>
<line x1="330.28" y1="594.4" x2="330.28" y2="598.2" stroke="#333" stroke-width="0.9"/>
<polyline points="319.48,514.50 319.48,511.50 329.38,511.50 329.38,514.50" fill="none" stroke="#111" stroke-width="1.5"/>
<text x="324.43" y="512.40" font-size="6.2" font-weight="bold" font-style="normal" text-anchor="middle" fill="#1a1a1a" letter-spacing="0.15">****</text>
<polyline points="331.58,529.70 331.58,526.70 340.88,526.70 340.88,529.70" fill="none" stroke="#111" stroke-width="1.5"/>
<text x="336.23" y="525.10" font-size="7.2" font-weight="normal" font-style="normal" text-anchor="middle" fill="#222" >n.s.</text>
<polyline points="319.48,503.60 319.48,500.60 340.08,500.60 340.08,503.60" fill="none" stroke="#111" stroke-width="1.5"/>
<text x="329.78" y="501.50" font-size="6.2" font-weight="bold" font-style="normal" text-anchor="middle" fill="#1a1a1a" letter-spacing="0.15">****</text>
<text transform="translate(333.78 604.5) rotate(-50)" font-size="9" text-anchor="end" fill="#111">Tcf3</text>
<text x="338.70" y="430.80" font-size="12" font-weight="bold" font-style="normal" text-anchor="start" fill="#000" >e</text>
<rect x="374.6" y="423.6" width="111" height="41.9" fill="#fff" stroke="#000" stroke-width="1"/>
<rect x="378.7" y="427.7" width="14" height="7.6" fill="#fff" stroke="#333" stroke-width="0.8"/>
<rect x="378.7" y="440.9" width="14" height="7.7" fill="#000"/>
<rect x="378.7" y="454.3" width="14" height="7.8" fill="#a6a6a6" stroke="#333" stroke-width="0.8"/>
<text x="398.60" y="434.50" font-size="8.5" font-weight="normal" font-style="normal" text-anchor="start" fill="#111" >Expressed genes</text>
<text x="398.60" y="447.80" font-size="8.5" font-weight="normal" font-style="normal" text-anchor="start" fill="#111" >Upregulated genes</text>
<text x="398.60" y="461.30" font-size="8.5" font-weight="normal" font-style="normal" text-anchor="start" fill="#111" >Downregulated genes</text>
<line x1="418.8" y1="496" x2="418.8" y2="594.6" stroke="#333" stroke-width="0.9"/>
<line x1="418.8" y1="594.6" x2="490" y2="594.6" stroke="#333" stroke-width="0.9"/>
<line x1="415.4" y1="594.60" x2="418.8" y2="594.60" stroke="#333" stroke-width="0.9"/>
<text x="411.90" y="598.00" font-size="9.5" font-weight="normal" font-style="normal" text-anchor="end" fill="#111" >0</text>
<line x1="415.4" y1="569.95" x2="418.8" y2="569.95" stroke="#333" stroke-width="0.9"/>
<text x="411.90" y="573.35" font-size="9.5" font-weight="normal" font-style="normal" text-anchor="end" fill="#111" >10</text>
<line x1="415.4" y1="545.30" x2="418.8" y2="545.30" stroke="#333" stroke-width="0.9"/>
<text x="411.90" y="548.70" font-size="9.5" font-weight="normal" font-style="normal" text-anchor="end" fill="#111" >20</text>
<line x1="415.4" y1="520.65" x2="418.8" y2="520.65" stroke="#333" stroke-width="0.9"/>
<text x="411.90" y="524.05" font-size="9.5" font-weight="normal" font-style="normal" text-anchor="end" fill="#111" >30</text>
<line x1="415.4" y1="496.00" x2="418.8" y2="496.00" stroke="#333" stroke-width="0.9"/>
<text x="411.90" y="499.40" font-size="9.5" font-weight="normal" font-style="normal" text-anchor="end" fill="#111" >40</text>
<rect x="426" y="558.6" width="13.2" height="36" fill="#fff" stroke="#444" stroke-width="0.8"/>
<rect x="448" y="511.1" width="13.2" height="83.5" fill="#000"/>
<rect x="469.9" y="555.1" width="13" height="39.5" fill="#b8b8b8" stroke="#444" stroke-width="0.8"/>
<polyline points="431.2,500.7 431.2,497 453.5,497 453.5,500.7" fill="none" stroke="#111" stroke-width="1.5"/>
<polyline points="431.2,485.6 431.2,482.5 475.5,482.5 475.5,485.6" fill="none" stroke="#111" stroke-width="1.5"/>
<text x="442.70" y="493.90" font-size="6.5" font-weight="normal" font-style="normal" text-anchor="middle" fill="#222" >p&lt;0.0001</text>
<text x="454.00" y="480.00" font-size="6.5" font-weight="normal" font-style="normal" text-anchor="middle" fill="#222" >p=0.456</text>
<text transform="translate(379.6 547) rotate(-90)" font-size="8.5" text-anchor="middle" fill="#111">% of genes defined as</text>
<text transform="translate(390.6 547) rotate(-90)" font-size="8.5" text-anchor="middle" fill="#111">PRC2 target genes</text>
<text x="528.60" y="430.40" font-size="12" font-weight="bold" font-style="normal" text-anchor="start" fill="#000" >f</text>
<rect x="544.3" y="464.2" width="114.9" height="29.3" fill="#fff" stroke="#000" stroke-width="1"/>
<rect x="549.4" y="468.2" width="14" height="8.7" fill="#000"/>
<rect x="549.4" y="482" width="14" height="8.5" fill="#b4b4b4" stroke="#333" stroke-width="0.8"/>
<text x="569.80" y="475.90" font-size="8.5" font-weight="normal" font-style="normal" text-anchor="start" fill="#111" >Upregulated genes</text>
<text x="569.80" y="489.20" font-size="8.5" font-weight="normal" font-style="normal" text-anchor="start" fill="#111" >Downregulated genes</text>
<text x="571.00" y="527.80" font-size="8.5" font-weight="normal" font-style="italic" text-anchor="middle" fill="#111" >Ezh2-/-</text>
<text x="634.50" y="527.80" font-size="8.5" font-weight="normal" font-style="italic" text-anchor="middle" fill="#111" >Eed-/-</text>
<circle cx="571.1" cy="563.3" r="27.8" fill="#bcbcbc"/>
<path d="M571.1,563.3 L571.1,535.5 A27.8,27.8 0 1 1 549.10,580.30 Z" fill="#000"/>
<circle cx="571.1" cy="563.3" r="27.8" fill="none" stroke="#444" stroke-width="0.6"/>
<circle cx="633.9" cy="563.3" r="27.7" fill="#bcbcbc"/>
<path d="M633.9,563.3 L633.9,535.5999999999999 A27.7,27.7 0 1 1 609.51,550.17 Z" fill="#000"/>
<circle cx="633.9" cy="563.3" r="27.7" fill="none" stroke="#444" stroke-width="0.6"/>
</svg></body></html>
